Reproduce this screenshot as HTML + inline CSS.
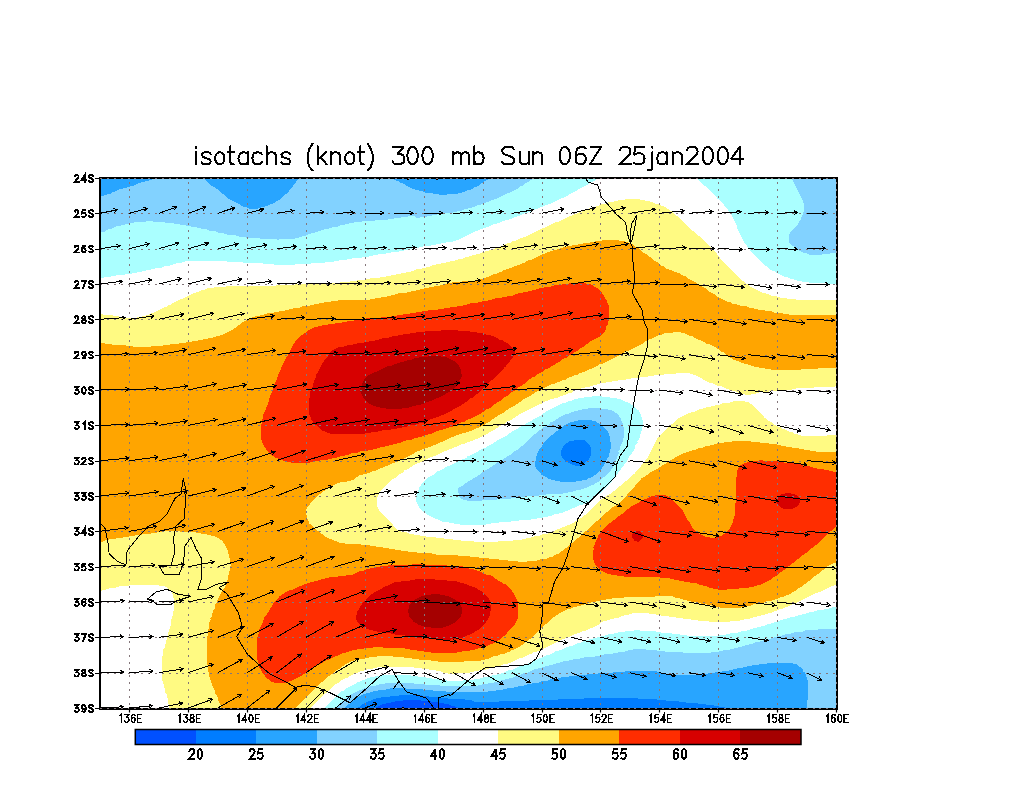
<!DOCTYPE html>
<html><head><meta charset="utf-8"><title>isotachs 300 mb</title>
<style>html,body{margin:0;padding:0;background:#fff;width:1024px;height:800px;overflow:hidden}svg{display:block;font-family:"Liberation Sans",sans-serif}</style>
</head><body>
<svg width="1024" height="800" viewBox="0 0 1024 800"><g shape-rendering="crispEdges"><rect x="100" y="178" width="736" height="530" fill="#0050ff"/>
<path fill="#007dff" fill-rule="evenodd" d="M100.0 178.0 100.0 707.5 375.5 707.5 384.5 703.5 386.0 703.5 388.5 702.5 390.5 702.5 393.0 701.5 395.0 701.5 395.5 701.0 397.5 701.0 398.0 700.5 402.5 700.5 403.0 700.0 420.5 700.0 421.0 700.5 430.5 701.0 431.0 701.5 433.0 701.5 433.5 702.0 438.0 702.0 438.5 702.5 440.5 702.5 441.0 703.0 443.0 703.0 443.5 703.5 449.0 704.5 449.5 705.0 455.0 706.5 456.5 707.5 835.5 707.5 835.5 178.0Z"/>
<path fill="#28a5ff" fill-rule="evenodd" d="M100.0 178.0 100.0 707.5 357.5 707.5 360.5 706.0 363.0 704.0 369.0 701.0 370.0 701.0 373.5 699.0 375.0 699.0 377.5 698.0 379.5 698.0 382.0 697.0 384.0 697.0 384.5 696.5 389.5 696.5 390.0 696.0 392.5 696.0 393.0 695.5 398.5 695.5 399.0 695.0 421.5 695.0 422.0 695.5 425.0 695.5 425.5 696.0 428.0 696.0 428.5 696.5 434.5 696.5 435.0 697.0 441.0 697.5 441.5 698.0 447.0 698.0 447.5 698.5 453.0 698.5 453.5 699.0 464.5 699.5 465.0 700.0 471.5 700.5 473.5 701.5 478.5 701.5 479.0 702.0 499.0 701.5 499.5 701.0 514.0 701.0 514.5 700.5 528.5 700.5 529.0 700.0 543.0 700.0 543.5 699.5 558.0 699.5 558.5 699.0 572.5 699.0 573.0 698.5 583.5 698.5 584.0 698.0 637.5 698.0 638.0 698.5 656.5 699.0 657.0 699.5 661.0 699.5 661.5 700.0 665.5 700.0 666.0 700.5 678.0 701.0 678.5 701.5 682.0 701.5 682.5 702.0 685.5 702.0 686.0 702.5 693.5 702.5 694.0 703.0 697.0 703.0 697.5 703.5 701.0 703.5 701.5 704.0 705.0 704.0 705.5 704.5 709.0 704.5 709.5 705.0 713.5 705.0 714.0 705.5 716.5 705.5 719.0 706.5 724.5 707.0 725.0 707.5 835.5 707.5 835.5 178.0ZM570.0 441.0 573.5 440.5 574.0 440.0 576.0 440.0 576.5 439.5 583.5 440.0 585.5 441.0 589.0 444.0 591.0 448.0 591.0 449.5 591.5 450.0 591.0 455.0 589.0 459.0 587.0 461.0 586.5 461.0 584.5 463.5 580.0 465.5 574.5 465.5 574.0 465.0 572.5 465.0 565.5 461.5 561.5 457.0 561.5 456.0 561.0 455.5 561.0 450.5 563.0 446.5 565.0 444.5Z"/>
<path fill="#82d2ff" fill-rule="evenodd" d="M100.0 197.0 100.0 707.5 345.0 707.5 347.5 705.0 350.0 703.5 353.5 700.0 355.0 699.5 358.0 697.0 364.0 694.0 365.0 694.0 366.5 693.0 369.5 692.5 371.0 691.5 372.5 691.5 373.0 691.0 378.0 690.5 378.5 690.0 380.5 690.0 381.0 689.5 386.0 689.5 386.5 689.0 389.0 689.0 389.5 688.5 405.0 688.0 405.5 688.5 422.0 689.0 422.5 689.5 425.5 689.5 426.0 690.0 432.0 690.0 432.5 690.5 438.5 690.5 439.0 691.0 445.0 691.0 445.5 691.5 451.5 691.5 452.0 692.0 477.5 692.5 478.0 692.0 484.0 692.0 484.5 691.5 488.0 691.5 488.5 691.0 495.5 690.5 496.0 690.0 499.0 690.0 499.5 689.5 503.0 689.5 503.5 689.0 505.5 689.0 508.0 688.0 514.0 687.5 514.5 687.0 516.5 687.0 519.0 686.0 521.0 686.0 521.5 685.5 524.0 685.5 526.5 684.5 531.0 684.0 533.5 683.0 536.0 683.0 536.5 682.5 538.5 682.5 541.0 681.5 546.0 681.0 546.5 680.5 548.0 680.5 550.0 679.5 554.0 679.0 554.5 678.5 558.0 678.5 558.5 678.0 560.5 678.0 561.0 677.5 565.0 677.0 565.5 676.5 569.0 676.5 569.5 676.0 572.5 676.0 573.0 675.5 576.0 675.5 576.5 675.0 583.5 675.0 584.0 674.5 587.0 674.5 587.5 674.0 594.5 674.0 595.0 673.5 598.0 673.5 598.5 673.0 605.5 673.0 606.0 672.5 613.0 672.5 613.5 672.0 624.0 672.0 624.5 671.5 640.0 671.0 640.5 670.5 651.5 670.5 652.0 671.0 656.5 671.5 659.0 672.5 661.0 672.5 661.5 673.0 665.5 673.5 666.0 674.0 668.5 674.0 669.0 674.5 682.0 674.5 682.5 675.0 685.0 675.0 685.5 674.5 700.5 674.5 701.0 674.0 704.0 674.0 704.5 673.5 707.5 673.5 708.0 673.0 711.0 673.0 711.5 672.5 715.0 672.5 715.5 672.0 718.5 672.0 719.0 671.5 722.0 671.5 722.5 671.0 726.0 671.0 726.5 670.5 728.5 670.5 731.0 669.5 733.0 669.5 733.5 669.0 736.0 669.0 738.5 668.0 743.0 667.5 743.5 667.0 745.0 667.0 745.5 666.5 747.0 666.5 749.5 665.5 751.5 665.5 752.0 665.0 759.0 664.5 759.5 664.0 763.0 664.0 763.5 663.5 767.0 663.5 767.5 663.0 774.5 663.0 775.0 662.5 790.5 662.5 791.0 663.0 792.5 663.0 793.0 663.5 794.5 663.5 797.0 664.5 802.5 669.0 803.5 671.5 804.5 672.5 806.0 675.5 806.0 676.5 807.0 678.5 807.0 680.0 807.5 680.5 807.5 682.0 808.0 682.5 807.5 700.5 807.0 701.0 807.0 705.0 806.5 705.5 806.5 707.5 835.5 707.5 835.5 178.0 489.0 178.0 487.0 180.0 482.0 183.0 479.0 185.5 477.0 186.5 476.0 186.5 471.0 189.5 468.0 190.0 464.0 192.0 462.5 192.0 462.0 192.5 460.5 192.5 458.0 193.5 455.0 193.5 454.5 194.0 447.5 194.0 447.0 194.5 438.5 194.5 438.0 194.0 433.0 194.0 432.5 193.5 428.5 193.0 428.0 192.5 424.5 192.5 421.5 191.0 419.5 191.0 419.0 190.5 415.5 190.0 412.5 188.5 411.5 188.5 408.5 186.5 405.0 185.0 404.0 184.0 402.0 183.0 401.0 183.0 398.0 181.0 395.5 180.5 392.5 179.0 391.5 178.0 299.0 178.0 296.0 181.5 295.5 183.0 289.0 191.0 289.0 191.5 279.5 199.5 275.5 201.5 274.0 203.0 272.0 204.0 271.0 204.0 267.5 206.0 262.5 207.0 258.5 208.5 254.5 208.5 254.0 209.0 249.0 208.5 248.5 208.0 243.0 206.5 240.0 205.0 239.0 204.0 229.5 199.5 225.0 195.5 220.5 192.5 217.5 189.5 211.5 185.5 203.5 178.0 154.0 178.0 152.0 179.5 150.0 179.5 148.5 180.5 145.5 181.0 144.0 182.0 138.5 183.0 133.5 185.5 132.0 185.5 130.0 186.5 128.5 186.5 126.5 187.5 125.0 187.5 124.5 188.0 119.0 189.5 114.5 192.0 112.0 192.5 110.5 193.5 109.5 193.5 106.0 195.0 104.5 195.0 103.0 196.0 102.0 196.0ZM607.5 431.0 609.5 435.5 609.5 437.5 610.0 438.0 610.0 442.0 610.5 442.5 610.5 448.5 610.0 449.0 610.0 452.0 609.0 454.0 608.5 457.0 607.0 459.0 604.5 464.5 602.5 467.5 595.0 475.0 591.5 477.5 588.0 478.5 586.5 479.5 582.5 480.0 582.0 480.5 579.5 480.5 579.0 481.0 576.5 481.0 576.0 481.5 573.0 481.5 572.5 482.0 560.0 482.0 559.5 481.5 552.0 480.0 548.0 478.5 547.0 477.5 544.5 476.5 541.5 474.5 536.5 469.0 535.0 465.5 535.0 461.0 535.5 460.5 535.5 458.0 536.0 457.5 537.0 453.5 539.0 449.5 542.0 446.0 543.0 444.0 550.5 436.0 553.0 434.5 555.5 432.0 565.0 425.0 571.0 422.0 576.0 421.0 576.5 420.5 578.0 420.5 578.5 420.0 582.0 420.0 582.5 419.5 591.0 420.0 591.5 420.5 595.5 421.5 597.5 423.0 601.0 424.5 602.5 425.5Z"/>
<path fill="#aaffff" fill-rule="evenodd" d="M791.5 178.0 533.0 178.0 531.0 180.0 526.5 183.0 525.0 183.5 522.5 185.5 521.0 186.0 518.5 188.0 508.5 193.0 507.5 193.0 496.0 199.0 495.0 199.0 493.0 200.0 491.5 200.0 488.0 202.0 486.5 202.0 486.0 202.5 483.5 203.0 481.0 204.5 479.5 204.5 472.0 207.5 470.5 207.5 466.5 209.0 465.0 209.0 461.0 211.0 457.5 211.0 457.0 211.5 453.0 212.0 452.5 212.5 450.5 212.5 450.0 213.0 445.5 213.0 445.0 213.5 442.5 213.5 442.0 214.0 437.5 214.0 437.0 214.5 435.0 214.5 434.5 215.0 432.5 215.0 432.0 215.5 430.0 215.5 429.5 216.0 427.5 216.0 427.0 216.5 422.5 216.5 420.0 217.5 415.5 217.5 415.0 216.5 414.0 216.0 408.0 216.0 407.5 216.5 401.5 217.0 401.0 217.5 398.0 217.5 397.5 218.0 394.5 218.0 394.0 218.5 388.0 219.0 387.5 219.5 381.5 219.5 381.0 220.0 375.0 220.0 374.5 220.5 365.5 220.5 365.0 221.0 362.5 221.0 362.0 221.5 354.5 222.0 352.5 223.0 349.5 223.0 349.0 223.5 345.5 224.0 344.0 225.0 340.0 225.5 338.0 226.5 333.5 227.0 328.0 229.0 323.5 229.5 323.0 230.0 322.0 230.0 314.0 233.0 312.5 233.0 304.5 236.0 303.0 236.0 299.5 237.5 295.0 238.0 294.5 238.5 292.0 238.5 291.5 239.0 279.0 239.0 278.5 239.5 276.5 239.5 276.0 239.0 261.0 239.0 260.5 238.5 248.5 238.0 248.0 237.5 245.5 237.5 245.0 237.0 242.5 237.0 242.0 236.5 239.0 236.5 238.5 236.0 236.0 236.0 235.5 235.5 227.0 234.5 223.0 233.0 220.5 233.0 220.0 232.5 218.0 232.5 216.0 231.5 208.5 230.5 206.5 229.5 202.0 229.0 200.0 228.0 193.0 227.0 192.5 226.5 191.0 226.5 188.5 225.5 185.5 225.5 185.0 225.0 182.5 225.0 182.0 224.5 179.5 224.5 179.0 224.0 176.5 224.0 176.0 223.5 173.5 223.5 173.0 223.0 170.5 223.0 170.0 222.5 165.0 222.5 164.5 222.0 162.5 222.0 162.0 221.5 153.0 221.5 152.5 221.0 146.0 221.0 145.5 221.5 135.0 222.0 132.5 223.0 130.5 223.0 128.0 224.0 126.0 224.0 123.5 225.0 121.5 225.0 121.0 225.5 116.0 226.5 110.5 229.0 107.5 229.5 104.5 231.5 103.5 231.5 100.0 233.0 100.0 707.5 335.5 707.5 350.0 695.0 358.5 690.5 362.0 689.5 365.5 687.5 367.5 687.5 368.0 687.0 369.5 687.0 371.0 686.0 376.0 685.5 380.0 684.0 385.0 683.5 385.5 683.0 391.5 683.0 392.0 682.5 410.0 682.5 410.5 683.0 413.5 683.0 414.0 683.5 421.0 683.5 421.5 684.0 424.5 684.0 425.0 684.5 432.0 684.5 432.5 685.0 439.5 685.0 440.0 685.5 447.0 685.5 447.5 686.0 457.5 686.0 458.0 686.5 474.5 686.0 475.0 685.5 477.5 685.5 478.0 685.0 481.0 685.0 481.5 684.5 487.0 684.0 487.5 683.5 491.5 683.0 492.0 682.5 494.5 682.5 498.5 681.0 504.0 680.0 506.0 679.0 511.5 678.0 515.5 676.0 520.0 675.0 522.5 673.5 527.5 672.5 533.5 669.5 537.0 669.0 539.0 668.0 540.5 668.0 542.5 667.0 548.0 666.0 550.0 665.0 551.5 665.0 553.5 664.0 559.0 663.0 563.0 661.5 568.0 661.0 568.5 660.5 572.5 660.0 573.0 659.5 579.0 659.0 579.5 658.5 583.5 658.0 584.0 657.5 591.0 657.0 591.5 656.5 594.5 656.5 595.0 656.0 598.5 656.0 599.0 655.5 601.0 655.5 603.5 654.5 610.0 654.0 610.5 653.5 613.0 653.5 613.5 653.0 617.5 652.5 618.0 652.0 624.5 651.5 625.0 651.0 627.0 651.0 629.5 650.0 632.0 650.0 634.0 649.0 645.0 649.0 645.5 649.5 652.0 649.5 652.5 650.0 656.0 650.0 656.5 650.5 660.0 650.5 660.5 651.0 664.0 651.0 664.5 651.5 668.0 651.5 668.5 652.0 682.5 652.5 683.0 653.0 690.0 653.0 690.5 653.5 707.5 653.0 708.0 652.5 711.0 652.5 711.5 652.0 715.0 652.0 715.5 651.5 718.5 651.5 719.0 651.0 722.0 651.0 722.5 650.5 728.5 650.0 732.5 648.5 734.0 648.5 734.5 648.0 738.0 647.5 740.0 646.5 741.5 646.5 743.5 645.5 745.0 645.5 745.5 645.0 749.0 644.5 751.0 643.5 752.5 643.5 754.5 642.5 760.0 641.5 765.5 639.5 771.0 638.5 776.5 636.5 782.0 635.5 786.0 634.0 791.0 633.5 793.5 632.5 802.5 631.5 805.0 630.5 810.5 630.0 811.0 629.5 817.5 629.5 818.0 629.0 823.5 629.0 824.0 628.5 835.5 628.5 835.5 253.0 829.5 253.5 829.0 254.0 822.0 254.0 821.5 254.5 809.0 254.5 807.0 253.5 803.5 253.0 797.0 249.5 793.0 246.0 792.5 246.0 789.0 242.0 789.0 241.0 788.5 240.5 788.5 236.0 789.0 235.5 789.0 234.5 790.0 232.5 798.5 223.5 799.5 221.0 801.0 219.0 801.0 218.0 802.5 215.0 802.5 214.0 803.5 212.0 803.5 210.5 804.0 210.0 804.0 205.0 803.5 204.5 803.5 203.0 803.0 202.5 802.5 200.0ZM621.0 419.0 621.0 420.0 622.5 422.5 622.5 425.0 623.5 427.0 623.5 437.5 623.0 438.0 623.0 440.5 621.0 444.5 619.5 450.0 618.5 451.5 618.5 454.0 617.0 457.0 616.5 459.5 615.5 461.0 615.0 463.5 611.5 469.5 605.5 476.0 603.0 477.5 599.5 481.0 593.0 485.0 590.5 485.5 586.0 488.0 585.0 488.0 580.0 490.0 576.0 490.5 572.0 492.0 563.5 493.0 563.0 493.5 557.5 493.5 557.0 494.0 546.0 494.5 545.5 495.0 539.5 495.0 539.0 495.5 533.5 495.5 533.0 496.0 527.5 496.0 527.0 496.5 521.0 496.5 520.5 497.0 518.0 497.0 517.5 497.5 515.0 497.5 514.5 498.0 511.0 498.0 510.5 498.5 497.5 499.0 497.0 499.5 489.5 499.5 489.0 500.0 482.0 500.0 481.5 500.5 467.0 500.5 466.5 500.0 463.5 500.0 460.5 498.5 459.0 496.5 459.0 494.5 458.0 492.0 458.0 488.5 459.5 487.0 462.5 485.5 464.0 484.0 466.5 483.0 469.0 481.0 471.5 480.0 473.5 478.0 477.5 476.0 485.0 470.5 487.5 469.5 497.5 462.5 503.0 459.5 507.5 456.0 510.0 455.0 515.5 450.5 517.5 449.5 520.0 447.0 522.0 446.0 527.5 440.5 528.0 440.5 535.5 433.5 536.0 433.5 539.0 430.5 541.5 429.0 543.5 427.0 548.5 424.5 550.5 422.5 554.0 421.0 559.0 417.5 565.0 414.5 567.5 414.0 572.5 411.5 574.0 411.5 574.5 411.0 576.0 411.0 576.5 410.5 578.0 410.5 578.5 410.0 580.0 410.0 580.5 409.5 582.0 409.5 584.5 408.5 587.5 408.5 588.0 408.0 600.0 408.0 600.5 408.5 607.5 409.0 608.0 409.5 612.0 410.5 616.5 413.5 619.0 416.0Z"/>
<path fill="#ffffff" fill-rule="evenodd" d="M835.5 283.5 826.0 283.5 825.5 283.0 818.5 283.0 818.0 282.5 809.0 282.5 808.5 282.0 805.5 282.0 805.0 281.5 802.0 281.5 801.5 281.0 796.5 280.5 796.0 280.0 795.0 280.0 793.0 279.0 791.5 279.0 786.5 277.0 785.0 277.0 781.5 275.0 780.5 275.0 775.5 272.5 774.5 271.5 770.0 269.5 766.5 266.5 765.0 266.0 751.0 252.0 749.5 249.5 747.5 247.5 746.0 244.5 744.5 243.0 743.0 239.5 740.5 236.0 740.5 235.0 737.5 229.0 737.0 226.0 732.0 216.0 728.5 211.5 727.0 208.5 724.5 206.0 723.0 203.5 718.0 198.5 717.5 198.5 710.5 191.0 710.0 191.0 705.0 186.0 704.5 186.0 696.5 178.0 597.5 178.0 595.5 180.0 589.5 183.0 587.0 185.0 578.5 189.0 577.5 190.0 569.5 194.0 568.5 195.0 563.0 198.0 562.0 198.0 549.5 204.0 548.5 204.0 547.0 205.0 546.0 205.0 544.5 206.0 543.5 206.0 542.0 207.0 541.0 207.0 539.5 208.0 538.5 208.0 537.0 209.0 536.0 209.0 529.5 212.0 523.5 213.5 522.0 214.5 521.0 214.5 519.5 215.5 518.5 215.5 517.0 216.5 516.0 216.5 509.5 219.5 504.5 220.5 499.0 223.0 498.0 223.0 496.0 224.0 494.5 224.0 489.0 226.5 488.0 226.5 487.5 227.0 483.5 228.0 482.0 229.0 479.5 229.5 477.0 231.0 476.0 231.0 473.5 232.5 472.5 232.5 459.5 239.5 454.0 241.0 452.5 242.0 445.5 242.5 445.0 243.0 441.5 243.0 441.0 243.5 439.0 243.5 438.5 244.0 436.5 244.0 436.0 244.5 434.0 244.5 433.5 245.0 431.5 245.0 431.0 245.5 429.0 245.5 428.5 246.0 423.0 246.5 422.5 247.0 420.5 247.0 418.0 248.0 412.0 248.5 411.5 249.0 409.5 249.0 409.0 249.5 407.0 249.5 406.5 250.0 404.5 250.0 404.0 250.5 402.0 250.5 401.5 251.0 399.5 251.0 399.0 251.5 391.5 252.0 391.0 252.5 389.0 252.5 388.5 253.0 386.5 253.0 386.0 253.5 384.0 253.5 383.5 254.0 377.5 254.5 377.0 255.0 372.5 255.5 372.0 256.0 369.0 256.0 368.5 256.5 365.5 256.5 365.0 257.0 362.0 257.0 361.5 257.5 356.5 257.5 356.0 258.0 353.5 258.0 351.0 259.0 347.5 259.0 347.0 259.5 344.5 259.5 344.0 260.0 338.5 260.5 338.0 261.0 334.5 261.0 334.0 261.5 325.0 262.0 324.5 262.5 311.0 263.0 310.5 263.5 304.5 263.5 304.0 264.0 295.0 264.0 294.5 264.5 273.5 264.5 273.0 264.0 264.0 264.0 263.5 263.5 251.5 263.0 251.0 262.5 242.5 262.5 242.0 262.0 226.5 261.5 226.0 261.0 217.0 261.0 216.5 260.5 192.5 260.5 192.0 261.0 184.5 261.5 182.0 262.5 180.0 262.5 179.5 263.0 177.5 263.0 175.0 264.0 173.0 264.0 172.5 264.5 171.0 264.5 169.5 265.5 163.5 266.5 162.0 267.5 155.0 268.5 154.5 269.0 151.0 269.5 150.5 270.0 145.5 270.5 145.0 271.0 143.5 271.0 141.0 272.0 132.5 273.0 132.0 273.5 130.0 273.5 129.5 274.0 125.5 274.0 125.0 274.5 117.5 275.0 115.0 276.0 111.5 276.0 111.0 276.5 109.0 276.5 108.5 277.0 105.5 277.0 103.0 278.0 100.0 278.0 100.0 707.5 325.5 707.5 331.5 701.0 331.5 700.5 337.0 695.0 337.5 695.0 342.0 691.0 343.5 690.5 346.0 688.5 353.5 685.0 358.0 682.0 359.0 682.0 360.5 681.0 361.5 681.0 363.0 680.0 364.0 680.0 366.5 678.5 369.0 678.0 370.5 677.0 374.5 676.5 375.0 676.0 377.5 676.0 378.0 675.5 380.5 675.5 381.0 675.0 386.0 675.0 386.5 674.5 402.5 674.5 403.0 675.0 410.0 675.0 410.5 675.5 414.0 675.5 414.5 676.0 417.5 676.0 418.0 676.5 421.5 676.5 422.0 677.0 425.0 677.0 425.5 677.5 431.5 678.0 432.0 678.5 437.0 678.5 437.5 679.0 440.0 679.0 440.5 679.5 443.0 679.5 443.5 680.0 446.0 680.0 446.5 680.5 462.5 680.5 463.0 680.0 470.0 680.0 470.5 679.5 473.5 679.5 474.0 679.0 477.5 679.0 478.0 678.5 480.0 678.5 482.5 677.5 489.5 676.5 495.0 674.5 496.5 674.5 497.0 674.0 500.5 673.5 502.5 672.5 504.0 672.5 508.0 670.5 513.0 669.5 522.5 665.0 527.5 663.5 533.5 660.5 538.5 659.0 541.0 657.5 542.0 657.5 544.5 656.0 549.5 654.5 555.5 651.5 560.5 650.0 566.5 647.0 571.5 646.0 577.5 643.0 581.0 642.5 586.5 640.0 592.0 639.0 594.0 638.0 599.5 637.0 601.5 636.0 603.0 636.0 603.5 635.5 605.0 635.5 607.5 634.5 613.0 634.0 613.5 633.5 617.5 633.0 618.0 632.5 624.5 632.0 625.0 631.5 630.5 631.0 631.0 630.5 633.5 630.5 634.0 630.0 639.0 630.0 639.5 630.5 648.5 630.5 649.0 631.0 656.0 631.5 656.5 632.0 660.0 632.0 660.5 632.5 664.0 632.5 664.5 633.0 671.5 633.0 672.0 633.5 679.0 634.0 679.5 634.5 682.5 634.5 683.0 635.0 686.0 635.0 686.5 635.5 690.0 635.5 690.5 636.0 715.0 636.0 715.5 635.5 718.5 635.5 719.0 635.0 722.0 635.0 722.5 634.5 726.0 634.5 726.5 634.0 729.5 634.0 730.0 633.5 736.0 633.0 736.5 632.5 738.0 632.5 742.0 631.0 747.0 630.5 747.5 630.0 749.0 630.0 754.5 628.0 756.0 628.0 756.5 627.5 760.0 627.0 762.0 626.0 763.5 626.0 767.5 624.0 769.0 624.0 769.5 623.5 771.0 623.5 776.5 621.5 778.0 621.5 784.0 619.0 785.5 619.0 787.5 618.0 789.0 618.0 789.5 617.5 797.0 616.0 799.0 615.0 804.5 614.0 810.0 612.0 814.0 611.5 814.5 611.0 816.5 611.0 817.0 610.5 820.5 610.0 821.0 609.5 823.5 609.5 824.0 609.0 826.0 609.0 826.5 608.5 828.5 608.5 829.0 608.0 831.0 608.0 831.5 607.5 835.5 607.0ZM641.0 415.0 641.0 416.0 642.0 418.0 642.0 420.0 642.5 420.5 642.5 427.0 642.0 427.5 642.0 429.5 641.0 431.5 641.0 433.5 640.5 434.0 639.5 438.0 637.5 441.5 637.5 442.5 635.5 445.5 635.0 447.5 633.0 451.5 632.0 452.5 631.5 454.0 629.5 456.0 628.0 459.5 610.5 483.0 599.5 494.0 599.0 494.0 593.5 499.0 582.5 504.5 580.0 505.0 574.5 508.0 572.0 508.5 567.5 511.0 566.0 511.0 561.5 513.0 554.0 514.5 552.0 515.5 550.5 515.5 550.0 516.0 548.5 516.0 548.0 516.5 546.5 516.5 546.0 517.0 544.5 517.0 542.0 518.0 538.5 518.0 536.0 519.0 532.5 519.0 530.0 520.0 519.0 520.5 518.5 521.0 511.5 521.0 511.0 521.5 503.5 521.5 503.0 522.0 499.0 522.0 498.5 522.5 494.0 522.5 493.5 523.0 491.5 523.0 491.0 523.5 489.0 523.5 488.5 524.0 486.5 524.0 486.0 524.5 481.5 524.5 481.0 525.0 471.5 525.5 471.0 525.0 459.5 524.5 459.0 524.0 456.5 524.0 456.0 523.5 453.5 523.5 453.0 523.0 444.5 522.0 444.0 521.5 442.0 521.5 438.0 519.5 435.0 519.0 434.0 518.0 426.5 514.5 424.5 512.5 424.0 512.5 419.0 507.5 416.0 501.5 416.0 496.0 418.0 492.0 418.0 491.0 419.5 487.5 422.5 483.0 426.5 479.0 430.5 476.0 434.5 474.0 437.5 471.5 444.0 468.5 445.0 467.5 448.0 466.0 449.0 466.0 462.5 459.0 463.5 459.0 466.5 457.5 467.5 456.5 477.0 452.0 480.5 449.5 484.5 447.5 485.5 447.5 488.5 445.5 493.0 443.5 497.0 440.5 504.5 437.0 513.0 431.0 517.5 429.0 520.0 427.0 522.5 426.0 526.0 423.5 529.5 422.0 534.5 418.5 541.5 415.0 543.5 413.0 545.0 412.5 546.0 411.5 563.0 403.0 565.5 402.5 568.5 401.0 571.5 400.5 574.5 399.0 576.0 399.0 576.5 398.5 578.0 398.5 580.5 397.5 584.0 397.5 584.5 397.0 591.5 396.5 592.0 396.0 601.5 396.0 602.0 396.5 607.5 396.5 610.0 397.5 613.5 397.5 614.0 398.0 619.5 399.0 629.0 403.0 635.0 407.0 636.0 408.5 638.5 410.5Z"/>
<path fill="#fffa82" fill-rule="evenodd" d="M835.5 299.5 829.5 299.5 829.0 300.0 802.0 300.0 801.5 299.5 796.0 299.5 795.5 299.0 789.5 299.0 789.0 298.5 786.5 298.5 786.0 298.0 783.5 298.0 783.0 297.5 780.0 297.5 779.5 297.0 777.5 297.0 775.5 296.0 771.0 295.5 770.5 295.0 760.5 292.0 749.5 286.0 743.5 281.0 742.0 280.5 726.5 265.5 726.5 265.0 721.0 259.5 716.0 252.5 708.5 244.5 708.0 244.5 700.5 237.0 697.5 235.0 693.5 231.0 692.0 230.5 687.5 226.0 687.0 226.0 683.5 222.5 683.5 222.0 676.5 215.5 676.0 215.5 673.0 212.5 669.0 209.5 662.0 205.5 661.0 205.5 659.5 204.5 656.0 204.0 654.5 203.0 653.5 203.0 652.0 202.0 650.5 202.0 650.0 201.5 645.5 201.0 645.0 200.5 641.0 200.0 638.5 199.0 625.5 199.0 625.0 199.5 618.5 200.0 618.0 200.5 616.0 200.5 613.5 201.5 609.0 202.0 607.5 203.0 606.5 203.0 604.5 204.0 601.0 204.5 600.5 205.0 596.5 206.0 595.0 207.0 587.5 209.0 586.0 210.0 585.0 210.0 583.5 211.0 582.5 211.0 581.0 212.0 580.0 212.0 578.5 213.0 577.5 213.0 576.0 214.0 575.0 214.0 573.5 215.0 570.0 216.0 563.5 219.5 562.5 219.5 561.0 220.5 560.0 220.5 558.5 221.5 555.0 222.5 546.5 227.0 545.5 227.0 544.0 228.0 540.5 229.0 524.5 237.0 523.5 237.0 522.0 238.0 521.0 238.0 514.5 241.0 512.0 241.5 510.5 242.5 508.0 243.0 503.5 245.5 495.5 248.0 494.0 249.0 493.0 249.0 491.0 250.0 489.5 250.0 489.0 250.5 487.5 250.5 478.5 254.0 477.0 254.0 475.0 255.0 471.5 255.5 471.0 256.0 470.0 256.0 468.0 257.0 466.5 257.0 461.5 259.0 457.5 259.5 457.0 260.0 455.0 260.0 454.5 260.5 452.5 260.5 452.0 261.0 450.0 261.0 449.5 261.5 446.0 262.0 445.5 262.5 440.5 263.5 440.0 264.0 435.5 264.5 435.0 265.0 431.5 265.5 429.5 266.5 428.0 266.5 424.5 268.0 416.5 269.5 411.0 271.5 409.0 271.5 408.5 272.0 406.5 272.0 406.0 272.5 404.0 272.5 403.5 273.0 401.5 273.0 401.0 273.5 399.0 273.5 398.5 274.0 396.5 274.0 396.0 274.5 394.0 274.5 393.5 275.0 391.5 275.0 391.0 275.5 389.0 275.5 388.5 276.0 386.5 276.0 386.0 276.5 384.0 276.5 383.5 277.0 380.0 277.0 379.5 277.5 376.0 277.5 375.5 278.0 370.0 278.5 369.5 279.0 365.0 279.0 364.5 279.5 357.0 280.0 356.5 280.5 353.5 280.5 353.0 281.0 350.5 281.0 350.0 281.5 345.0 281.5 344.5 282.0 340.0 282.0 339.5 282.5 326.5 283.0 326.0 283.5 314.5 283.5 314.0 284.0 295.0 284.0 294.5 284.5 285.5 284.5 285.0 285.0 276.0 285.0 275.5 285.5 260.5 285.5 260.0 286.0 226.0 286.0 225.5 286.5 214.5 287.0 214.0 287.5 207.0 288.5 204.0 290.0 200.5 290.5 199.0 291.5 194.0 293.0 188.5 296.0 187.5 296.0 182.0 299.0 181.0 299.0 175.5 302.0 174.5 302.0 170.0 305.0 168.0 305.5 166.5 306.5 165.5 306.5 154.0 312.5 153.0 312.5 146.5 315.5 145.0 315.5 144.5 316.0 143.0 316.0 140.5 317.0 138.5 317.0 136.0 318.0 126.0 318.0 125.5 317.5 123.5 317.5 123.0 317.0 119.0 316.5 116.5 315.5 113.0 315.5 112.5 315.0 109.5 315.0 109.0 314.5 102.5 314.5 102.0 314.0 100.0 314.0 100.0 590.5 101.5 590.5 103.5 589.5 105.5 589.5 106.0 589.0 107.5 589.0 110.0 588.0 116.0 587.5 116.5 587.0 118.0 587.0 120.5 586.0 125.5 586.0 126.0 585.5 129.0 585.5 129.5 585.0 135.5 585.0 136.0 584.5 153.5 584.5 154.0 585.0 158.5 585.0 159.0 585.5 161.0 585.5 161.5 586.0 165.0 586.5 167.5 588.0 171.0 591.5 173.0 595.5 173.0 597.0 174.0 599.5 174.0 608.0 173.5 608.5 173.5 610.5 173.0 611.0 173.0 613.0 172.5 613.5 172.5 616.0 172.0 616.5 172.0 618.5 171.5 619.0 170.5 626.0 170.0 626.5 170.0 628.0 169.0 629.5 168.0 635.5 167.0 637.0 166.0 643.0 165.0 644.5 164.5 648.0 163.5 649.5 163.0 653.5 162.5 654.0 162.5 656.0 162.0 656.5 162.0 658.5 161.5 659.0 161.5 671.5 162.0 672.0 162.5 681.0 163.0 681.5 164.0 687.0 165.0 689.0 165.5 692.5 166.5 694.5 166.5 696.0 167.5 698.0 167.5 701.0 168.5 703.5 168.5 706.0 169.0 706.5 169.0 707.5 311.5 707.5 325.0 693.5 325.5 693.5 335.0 684.5 338.0 683.0 341.0 680.5 347.5 677.5 348.5 676.5 352.5 674.5 353.5 674.5 360.0 671.5 363.0 671.0 364.5 670.0 366.0 670.0 368.5 669.0 370.5 669.0 371.0 668.5 373.0 668.5 373.5 668.0 376.0 668.0 376.5 667.5 389.5 667.0 390.0 666.5 409.0 666.5 409.5 667.0 413.0 667.0 413.5 667.5 417.0 667.5 417.5 668.0 421.0 668.0 421.5 668.5 424.5 668.5 425.0 669.0 428.5 669.0 429.0 669.5 435.0 670.0 435.5 670.5 437.5 670.5 438.0 671.0 439.5 671.0 444.5 673.0 447.0 673.0 447.5 673.5 458.0 673.5 458.5 673.0 461.5 673.0 462.0 672.5 469.5 672.5 470.0 672.0 472.5 672.0 475.0 671.0 483.5 670.0 484.0 669.5 485.5 669.5 486.0 669.0 487.5 669.0 490.0 668.0 494.5 667.5 497.0 666.0 498.5 666.0 499.0 665.5 500.5 665.5 506.0 663.5 507.5 663.5 508.0 663.0 510.5 662.5 512.0 661.5 513.0 661.5 515.5 660.0 516.5 660.0 519.0 658.5 523.5 657.5 530.0 654.0 531.0 654.0 533.5 652.5 538.5 651.0 563.0 639.0 564.0 639.0 566.5 637.5 571.5 636.0 576.0 633.5 577.0 633.5 577.5 633.0 581.5 632.0 583.0 631.0 585.5 630.5 590.5 628.0 593.0 627.5 597.5 625.0 598.5 625.0 600.5 622.5 603.5 621.0 607.0 620.5 612.0 618.5 614.0 618.5 614.5 618.0 618.5 617.5 624.0 615.5 628.0 615.0 633.0 613.0 636.5 613.0 637.0 612.5 648.5 613.0 649.0 613.5 652.5 613.5 653.0 614.0 655.0 614.0 655.5 614.5 660.0 615.0 660.5 615.5 668.0 616.0 668.5 616.5 671.5 616.5 672.0 617.0 675.0 617.0 675.5 617.5 679.0 617.5 679.5 618.0 682.5 618.0 683.0 618.5 686.0 618.5 686.5 619.0 690.0 619.0 690.5 619.5 693.5 619.5 694.0 620.0 697.0 620.0 697.5 620.5 701.0 620.5 701.5 621.0 708.0 621.0 708.5 621.5 729.5 621.5 730.0 621.0 737.0 621.0 737.5 620.5 739.5 620.5 740.0 620.0 744.0 619.5 744.5 619.0 750.5 618.5 754.5 617.0 756.0 617.0 756.5 616.5 760.0 616.0 762.0 615.0 763.5 615.0 765.5 614.0 771.0 613.0 775.0 611.0 776.0 611.0 778.5 609.5 783.5 608.5 786.0 607.0 787.0 607.0 789.5 605.5 790.5 605.5 795.0 603.0 796.0 603.0 815.5 593.0 819.5 592.0 829.5 587.0 830.5 587.0 832.0 586.0 835.5 585.0 835.5 434.5 833.0 434.5 832.5 435.0 827.0 435.0 826.5 435.5 820.5 435.5 820.0 436.0 804.5 436.0 804.0 435.5 801.0 435.5 800.5 435.0 795.0 434.0 792.5 432.5 790.0 432.0 784.5 429.0 782.0 428.5 780.0 427.0 778.0 426.5 774.0 424.5 771.5 422.5 768.5 421.0 765.0 417.5 764.5 417.5 753.0 405.5 749.0 402.5 746.5 401.5 745.0 401.5 744.5 401.0 733.0 401.5 732.5 402.0 730.5 402.0 730.0 402.5 721.5 403.5 719.5 404.5 715.0 405.0 714.5 405.5 713.0 405.5 710.5 406.5 708.5 406.5 705.0 408.0 700.0 409.0 696.5 411.0 690.5 412.5 678.0 418.5 671.5 424.5 671.0 424.5 658.5 437.0 656.0 440.5 648.0 457.5 645.0 460.5 644.5 462.0 641.0 466.0 641.0 466.5 638.5 469.0 638.0 469.0 634.5 473.0 634.5 473.5 626.5 481.0 626.0 481.0 611.5 493.0 607.0 495.5 605.5 497.0 600.5 500.0 588.5 512.5 581.0 518.0 579.5 518.5 574.5 522.0 569.5 524.5 568.5 524.5 564.0 527.0 563.0 527.0 559.5 529.0 557.0 529.5 553.5 531.5 552.5 531.5 547.5 533.5 543.5 534.0 538.5 536.0 534.0 536.5 533.5 537.0 531.0 537.0 530.5 537.5 529.0 537.5 525.0 539.0 522.5 539.0 522.0 539.5 516.0 539.5 515.5 540.0 513.0 540.0 512.5 540.5 510.0 540.5 509.5 541.0 497.5 541.5 497.0 542.0 488.0 542.0 487.5 541.5 473.5 541.5 473.0 541.0 463.5 541.0 463.0 540.5 460.5 540.5 460.0 540.0 453.5 540.0 453.0 539.5 447.0 539.0 446.5 538.5 444.0 538.5 443.5 538.0 438.0 538.0 437.5 537.5 435.5 537.5 435.0 537.0 429.5 537.0 429.0 536.5 426.0 536.5 425.5 536.0 422.0 536.0 421.5 535.5 419.5 535.5 419.0 535.0 417.0 535.0 416.5 534.5 414.0 534.5 413.5 534.0 409.0 533.5 407.0 532.5 401.0 531.5 398.0 530.0 394.0 527.0 392.5 524.0 389.5 521.0 389.0 521.0 379.5 511.0 376.5 505.0 376.5 498.5 379.5 492.5 388.0 483.0 388.5 483.0 393.5 478.5 395.0 478.0 398.0 475.0 402.0 473.0 404.5 470.5 408.0 469.0 413.0 465.5 419.0 462.5 420.0 462.5 427.5 458.5 428.5 458.5 431.0 457.0 436.0 455.5 442.5 452.0 447.5 450.5 450.0 449.0 451.0 449.0 453.5 447.5 454.5 447.5 461.0 444.5 464.0 444.0 465.5 443.0 472.0 441.0 475.5 439.0 478.0 438.5 487.0 434.0 489.5 432.0 494.0 430.0 500.0 426.0 504.5 424.0 507.5 421.5 512.0 419.5 519.0 414.5 522.5 413.0 523.5 412.0 529.0 409.5 532.0 407.5 533.0 407.5 539.5 404.0 541.5 403.5 543.0 402.0 544.0 402.0 546.5 400.5 548.0 400.5 550.0 399.5 553.5 399.0 555.0 398.0 558.0 397.5 562.5 395.5 565.5 395.0 569.0 393.0 571.5 392.5 575.0 390.5 578.0 390.0 582.5 388.0 584.0 388.0 586.0 387.0 587.5 387.0 588.0 386.5 589.5 386.5 590.0 386.0 597.5 384.5 601.5 383.0 605.0 383.0 607.5 382.0 611.0 382.0 613.5 381.0 617.0 381.0 617.5 380.5 624.5 380.0 627.0 379.0 630.5 379.0 631.0 378.5 638.5 378.0 641.0 377.0 644.5 377.0 645.0 376.5 648.0 376.5 650.5 375.5 654.0 375.5 654.5 375.0 658.0 375.0 658.5 374.5 663.5 374.5 664.0 374.0 667.5 374.0 668.0 373.5 676.0 373.5 676.5 373.0 689.0 373.0 689.5 373.5 691.0 373.5 692.5 374.5 694.0 374.5 709.0 382.5 713.0 383.5 716.5 385.5 721.5 386.5 725.5 388.5 726.5 388.5 731.5 390.5 735.0 391.0 741.0 394.0 744.5 394.5 745.0 395.0 750.0 395.0 753.0 393.5 756.0 393.5 756.5 393.0 758.0 393.0 760.5 392.0 766.0 392.0 766.5 391.5 769.0 391.5 769.5 391.0 775.5 391.0 776.0 390.5 782.5 390.5 783.0 390.0 785.5 390.0 786.0 389.5 791.5 389.5 792.0 389.0 795.0 389.0 795.5 388.5 807.5 388.0 808.0 387.5 814.0 387.5 814.5 387.0 822.0 387.0 822.5 386.5 835.0 386.5 835.5 386.0Z"/>
<path fill="#ffa500" fill-rule="evenodd" d="M835.5 315.0 791.5 315.0 791.0 314.5 788.5 314.5 788.0 314.0 785.5 314.0 785.0 313.5 782.5 313.5 782.0 313.0 777.0 313.0 776.5 312.5 774.5 312.5 770.5 311.0 767.5 311.0 767.0 310.5 764.5 310.5 764.0 310.0 761.5 310.0 761.0 309.5 758.0 309.5 757.5 309.0 755.5 309.0 751.5 307.5 749.5 307.5 745.5 306.0 740.0 305.5 736.0 304.0 732.0 303.5 730.5 302.5 726.5 301.5 717.5 297.0 714.0 294.0 710.0 292.0 706.5 289.0 700.5 286.0 695.0 282.0 688.0 278.5 685.5 276.5 681.0 274.5 680.0 273.5 666.0 268.5 663.5 266.5 662.0 266.0 658.5 263.0 654.0 260.5 650.5 257.5 649.0 257.0 646.0 254.0 643.0 252.5 637.5 247.5 635.0 246.5 632.5 244.5 622.5 240.5 618.5 240.5 618.0 240.0 614.5 240.0 614.0 239.5 607.5 239.5 607.0 240.0 602.5 240.0 602.0 240.5 595.5 241.0 595.0 241.5 592.5 241.5 590.0 242.5 583.0 243.0 582.5 243.5 580.5 243.5 580.0 244.0 578.0 244.0 577.5 244.5 575.0 244.5 574.5 245.0 572.5 245.0 572.0 245.5 569.5 245.5 569.0 246.0 564.0 247.0 560.5 248.5 559.0 248.5 555.5 250.0 554.0 250.0 550.5 251.5 549.0 251.5 544.0 254.0 540.5 255.0 534.0 258.5 533.0 258.5 531.5 259.5 528.0 260.5 524.5 262.5 523.5 262.5 522.0 263.5 521.0 263.5 519.5 264.5 518.5 264.5 517.0 265.5 516.0 265.5 509.5 268.5 503.0 270.5 501.5 271.5 500.5 271.5 499.0 272.5 498.0 272.5 496.5 273.5 495.5 273.5 489.0 276.5 488.0 276.5 483.0 278.5 475.5 280.0 475.0 280.5 472.5 280.5 472.0 281.0 462.0 281.0 461.5 281.5 451.5 282.5 451.0 283.0 447.0 283.5 446.5 284.0 444.5 284.0 444.0 284.5 442.0 284.5 439.5 285.5 434.5 286.0 434.0 286.5 432.0 286.5 431.5 287.0 429.5 287.0 429.0 287.5 427.0 287.5 426.5 288.0 424.0 288.0 423.5 288.5 422.0 288.5 421.5 289.0 420.0 289.0 419.5 289.5 418.0 289.5 415.5 290.5 413.0 290.5 412.5 291.0 411.0 291.0 410.5 291.5 409.0 291.5 406.5 292.5 398.0 293.5 397.5 294.0 396.0 294.0 393.5 295.0 391.5 295.0 391.0 295.5 389.5 295.5 387.0 296.5 384.5 296.5 384.0 297.0 381.5 297.0 381.0 297.5 378.5 297.5 378.0 298.0 375.5 298.0 375.0 298.5 370.0 299.0 369.5 299.5 366.5 299.5 366.0 300.0 361.5 300.0 361.0 300.5 338.0 300.0 337.5 300.5 334.5 300.5 334.0 301.0 331.0 301.0 330.5 301.5 327.0 301.5 326.5 302.0 324.0 302.0 323.5 302.5 321.5 302.5 319.0 303.5 314.5 304.0 314.0 304.5 310.5 305.0 310.0 305.5 301.5 306.5 299.5 307.5 292.5 308.5 292.0 309.0 290.5 309.0 288.0 310.0 285.5 310.0 285.0 310.5 282.5 310.5 282.0 311.0 279.0 311.0 278.5 311.5 276.5 311.5 274.0 312.5 266.5 313.5 262.5 315.0 260.0 315.0 259.5 315.5 258.0 315.5 257.5 316.0 252.5 317.0 250.5 318.5 248.5 319.0 245.5 321.0 243.0 322.0 232.5 330.0 223.0 334.5 221.5 334.5 218.5 336.0 215.5 336.5 215.0 337.0 213.0 337.0 212.5 337.5 210.5 337.5 210.0 338.0 208.0 338.0 207.5 338.5 205.5 338.5 205.0 339.0 203.0 339.0 202.5 339.5 200.5 339.5 200.0 340.0 198.0 340.0 197.5 340.5 195.0 340.5 194.5 341.0 192.0 341.0 191.5 341.5 189.0 341.5 188.5 342.0 186.0 342.0 185.5 342.5 179.5 343.0 179.0 343.5 176.0 343.5 175.5 344.0 170.0 344.0 169.5 344.5 163.5 345.0 163.0 345.5 151.0 346.0 150.5 346.5 132.5 346.5 132.0 346.0 126.5 346.0 126.0 345.5 115.0 345.0 114.5 344.5 112.0 344.5 111.5 344.0 107.0 344.0 106.5 343.5 104.5 343.5 104.0 343.0 100.0 343.0 100.0 541.5 102.5 541.5 103.0 541.0 104.5 541.0 105.0 540.5 108.5 540.0 109.0 539.5 115.0 539.0 115.5 538.5 119.0 538.0 119.5 537.5 122.5 537.5 123.0 537.0 125.5 537.0 126.0 536.5 128.5 536.5 129.0 536.0 132.0 536.0 132.5 535.5 135.0 535.5 135.5 535.0 138.0 535.0 138.5 534.5 141.5 534.5 142.0 534.0 147.5 534.0 148.0 533.5 150.5 533.5 151.0 533.0 153.5 533.0 154.0 532.5 157.0 532.5 157.5 532.0 163.0 532.0 163.5 531.5 179.5 531.0 180.0 531.5 195.0 532.0 195.5 532.5 198.0 532.5 198.5 533.0 200.5 533.0 201.0 533.5 203.5 533.5 204.0 534.0 206.0 534.0 206.5 534.5 210.5 535.0 212.0 536.0 213.5 536.0 218.0 538.0 221.0 540.0 223.0 542.0 226.0 546.5 228.0 551.0 228.0 552.5 229.0 555.0 229.0 557.0 230.0 559.5 230.0 564.0 230.5 564.5 230.5 565.5 230.0 566.0 230.0 570.0 229.0 572.5 229.0 574.5 228.5 575.0 227.5 580.5 226.5 582.0 226.5 583.0 225.5 584.5 225.5 585.5 224.5 587.5 222.5 590.0 216.5 602.0 216.5 603.0 215.5 604.5 214.5 608.5 213.5 610.0 211.5 617.0 210.5 618.5 210.5 619.5 209.5 621.5 209.0 626.0 208.5 626.5 208.5 629.0 208.0 629.5 208.0 632.0 207.5 632.5 207.5 635.5 207.0 636.0 207.0 641.5 206.5 642.0 206.5 658.0 207.0 658.5 207.0 664.5 207.5 665.0 207.5 667.5 208.0 668.0 209.0 676.5 209.5 677.0 209.5 678.5 210.5 680.0 210.5 681.0 211.5 682.5 212.5 686.5 214.5 690.0 215.5 693.5 217.5 697.0 218.0 700.0 220.0 703.5 221.0 707.5 296.0 707.5 315.5 687.5 316.0 687.5 321.0 682.5 323.5 681.0 327.0 677.5 332.0 674.0 336.5 670.0 340.5 668.0 345.5 664.0 350.5 661.5 353.0 661.0 356.0 659.5 358.0 659.5 360.5 658.5 364.5 658.5 365.0 658.0 369.0 657.5 369.5 657.0 374.0 657.0 374.5 656.5 377.0 656.5 377.5 656.0 392.5 656.0 393.0 656.5 400.0 656.5 400.5 657.0 403.5 657.0 404.0 657.5 411.5 658.0 412.0 658.5 415.0 658.5 415.5 659.0 418.5 659.0 419.0 659.5 426.0 659.5 426.5 660.0 430.0 660.0 430.5 660.5 433.5 660.5 434.0 661.0 437.5 661.0 438.0 661.5 444.5 661.5 445.0 662.0 454.0 662.0 454.5 661.5 463.5 661.5 464.0 661.0 480.0 661.0 480.5 660.5 484.0 660.0 485.5 659.0 489.0 658.5 493.0 656.5 497.0 656.0 501.0 654.0 504.5 653.5 506.0 652.5 507.0 652.5 508.5 651.5 509.5 651.5 511.0 650.5 514.5 649.5 516.5 648.0 520.0 646.5 531.5 638.0 540.0 629.5 541.0 628.0 541.5 628.0 545.5 624.0 546.0 624.0 551.0 619.0 559.0 613.5 567.0 609.5 570.0 609.0 573.0 607.5 576.0 607.0 577.5 606.0 581.0 605.5 586.0 603.5 588.0 603.5 592.0 602.0 594.0 602.0 594.5 601.5 596.0 601.5 596.5 601.0 600.0 600.5 600.5 600.0 603.0 600.0 603.5 599.5 605.5 599.5 606.0 599.0 611.0 599.0 611.5 598.5 623.0 598.0 623.5 597.5 641.0 597.0 641.5 596.5 655.0 596.5 655.5 596.0 669.0 595.5 669.5 596.0 673.0 596.5 675.0 597.5 678.5 598.0 680.5 599.0 682.0 599.0 682.5 599.5 684.0 599.5 684.5 600.0 686.0 600.0 686.5 600.5 688.0 600.5 690.5 601.5 696.0 602.0 696.5 602.5 698.0 602.5 698.5 603.0 700.0 603.0 702.5 604.0 707.0 604.5 707.5 605.0 711.5 605.5 712.0 606.0 714.5 606.0 715.0 606.5 719.0 607.0 719.5 607.5 733.0 608.0 733.5 607.5 740.5 607.5 741.0 607.0 743.0 607.0 745.5 606.0 748.0 606.0 748.5 605.5 750.5 605.5 753.0 604.5 758.0 604.0 758.5 603.5 764.0 602.5 766.0 601.5 771.5 600.5 773.5 599.5 775.0 599.5 775.5 599.0 778.0 598.5 779.5 597.5 784.0 596.5 787.5 594.5 788.5 594.5 791.5 593.0 792.5 592.0 796.5 590.0 799.5 587.5 801.0 587.0 804.0 584.5 805.5 584.0 817.5 574.0 818.0 574.0 821.5 570.5 824.5 569.0 828.0 566.0 835.5 562.5 835.5 452.5 815.5 451.5 815.0 451.0 812.5 451.0 812.0 450.5 809.5 450.5 809.0 450.0 806.5 450.0 806.0 449.5 803.5 449.5 803.0 449.0 794.5 448.0 794.0 447.5 792.0 447.5 791.5 447.0 789.0 447.0 788.5 446.5 786.0 446.5 785.5 446.0 777.0 445.0 776.5 444.5 771.5 444.0 771.0 443.5 768.5 443.5 768.0 443.0 762.5 443.0 762.0 442.5 759.5 442.5 759.0 442.0 756.5 442.0 756.0 441.5 751.0 441.5 750.5 441.0 732.5 441.0 732.0 441.5 729.5 441.5 729.0 442.0 724.0 442.0 723.5 442.5 718.5 443.0 714.5 444.5 712.5 444.5 708.5 446.0 706.5 446.0 701.5 448.0 697.5 448.5 694.5 450.0 689.5 451.0 688.0 452.0 684.0 453.0 680.5 455.0 679.5 455.0 677.5 456.0 672.5 459.5 668.0 461.5 664.5 464.5 663.0 465.0 654.5 470.5 650.0 472.5 645.0 476.5 643.5 477.0 641.5 478.5 635.5 484.5 634.5 486.5 630.0 491.0 625.5 497.0 621.0 501.5 620.5 501.5 618.0 504.0 611.5 508.0 608.5 511.0 606.0 512.5 603.0 516.0 602.5 516.0 599.0 519.5 596.0 521.5 595.0 523.0 587.0 530.5 586.5 530.5 579.0 537.5 576.5 539.0 573.0 542.5 570.5 544.0 567.5 547.0 563.5 550.0 560.5 551.5 558.5 553.5 554.0 555.5 552.0 557.0 550.5 557.0 545.5 559.0 540.0 559.5 539.5 560.0 537.0 560.0 536.5 560.5 533.5 560.5 533.0 561.0 527.5 561.0 527.0 561.5 517.5 561.5 517.0 561.0 514.5 561.0 514.0 560.5 508.0 560.5 507.5 560.0 505.0 560.0 504.5 559.5 498.5 559.5 498.0 559.0 495.0 559.0 494.5 558.5 488.5 558.5 488.0 558.0 485.5 558.0 485.0 557.5 479.0 557.5 478.5 557.0 476.0 557.0 475.5 556.5 469.5 556.5 469.0 556.0 463.5 556.0 463.0 555.5 457.5 555.5 457.0 555.0 435.5 554.5 435.0 554.0 432.5 554.0 432.0 553.5 419.5 553.0 419.0 552.5 416.5 552.5 416.0 552.0 413.5 552.0 413.0 551.5 407.5 551.5 407.0 551.0 404.0 551.0 403.5 550.5 401.0 550.5 400.5 550.0 398.0 550.0 397.5 549.5 394.5 549.5 394.0 549.0 391.5 549.0 391.0 548.5 388.5 548.5 388.0 548.0 385.5 548.0 385.0 547.5 382.5 547.5 382.0 547.0 379.0 547.0 378.5 546.5 376.0 546.5 375.5 546.0 373.0 546.0 372.5 545.5 369.5 545.5 369.0 545.0 366.5 545.0 366.0 544.5 360.5 544.5 360.0 544.0 357.0 544.0 356.5 543.5 344.5 543.5 344.0 543.0 339.0 542.5 338.5 542.0 334.5 541.0 331.0 539.0 330.0 539.0 326.0 537.0 318.0 531.0 316.5 530.5 309.5 523.5 306.5 517.0 306.5 515.5 306.0 515.0 306.0 510.5 307.5 506.5 309.5 504.5 309.5 504.0 318.5 495.0 329.0 487.5 335.5 484.0 336.5 484.0 338.0 483.0 339.5 483.0 340.0 482.5 347.0 481.5 347.5 481.0 349.0 481.0 349.5 480.5 351.0 480.5 351.5 480.0 354.0 479.5 355.5 478.0 361.0 474.5 363.0 474.5 364.5 473.5 367.0 473.5 367.5 473.0 370.0 472.5 371.5 471.5 374.5 471.0 380.5 468.0 383.0 467.5 385.5 466.0 389.5 465.0 393.0 463.0 395.5 462.5 413.0 454.0 414.0 453.0 418.0 451.0 419.0 451.0 420.5 450.0 421.5 450.0 422.0 449.5 424.5 449.0 426.0 448.0 430.0 447.0 433.5 445.0 437.5 444.0 441.0 442.0 443.5 441.5 453.0 436.5 454.0 436.5 454.5 436.0 472.0 430.5 476.5 428.0 479.0 427.5 484.0 425.0 486.5 423.0 490.0 421.5 493.5 418.5 498.0 415.5 501.5 414.0 511.5 407.0 514.0 406.0 520.0 402.0 523.5 399.0 531.5 395.0 537.5 391.0 541.5 389.5 543.0 388.0 544.0 388.0 552.5 384.0 554.0 384.0 557.0 382.5 559.5 382.0 563.0 380.0 565.5 379.5 569.0 377.5 571.5 377.0 575.0 375.0 577.5 374.5 579.0 373.5 584.0 372.0 588.5 369.5 591.0 369.0 598.0 365.5 600.0 364.0 602.5 363.5 623.5 353.0 624.5 352.0 627.5 350.5 628.5 350.5 642.5 343.5 644.0 342.0 649.5 339.0 650.5 339.0 658.5 335.0 662.0 334.5 663.5 333.5 667.5 333.0 668.0 332.5 672.5 332.5 673.0 332.0 680.5 332.5 681.0 333.0 685.0 333.5 686.5 334.5 687.5 334.5 689.0 335.5 692.5 336.5 699.0 340.0 700.0 340.0 706.5 343.5 707.5 343.5 716.5 348.0 721.5 351.5 723.0 352.0 725.5 354.5 734.0 360.0 735.0 360.0 736.5 361.0 737.5 361.0 744.0 363.5 745.5 363.5 750.5 365.5 752.0 365.5 754.0 366.5 758.0 367.0 758.5 367.5 761.0 367.5 761.5 368.0 764.0 368.0 764.5 368.5 767.0 368.5 767.5 369.0 770.5 369.0 771.0 369.5 776.5 369.5 777.0 370.0 795.0 370.0 795.5 369.5 801.0 369.5 801.5 369.0 810.5 369.0 811.0 368.5 818.0 368.5 818.5 368.0 829.0 368.0 829.5 367.5 835.5 367.5Z"/>
<path fill="#ff2d00" fill-rule="evenodd" d="M518.0 602.5 516.0 597.5 515.0 596.5 514.0 594.0 512.0 591.5 511.5 590.0 508.0 586.0 506.5 585.5 505.0 584.0 503.0 583.5 501.5 582.0 498.0 580.5 492.5 576.5 489.5 575.0 486.0 574.5 479.0 571.0 478.0 571.0 473.0 569.0 468.5 568.5 468.0 568.0 466.5 568.0 462.5 566.5 455.5 566.0 455.0 565.5 446.5 565.5 446.0 565.0 441.5 565.0 441.0 564.5 422.0 564.5 421.5 564.0 412.0 564.0 411.5 564.5 397.0 564.5 396.5 565.0 388.5 565.0 388.0 565.5 380.5 566.0 380.0 566.5 378.0 566.5 375.5 567.5 371.0 568.0 369.0 569.0 365.5 569.5 364.0 570.5 359.0 571.5 356.5 573.0 355.5 573.0 352.5 574.5 349.0 574.5 348.5 575.0 346.5 575.0 346.0 575.5 341.0 575.5 340.5 576.0 338.0 576.0 337.5 576.5 329.0 577.5 328.5 578.0 321.0 579.0 320.5 579.5 319.0 579.5 317.5 580.5 314.0 581.0 313.5 581.5 305.0 584.0 302.5 585.5 297.5 587.0 292.5 589.5 290.0 590.0 286.0 592.0 279.5 596.5 274.0 602.5 271.5 607.0 270.5 608.0 270.0 609.5 269.0 610.5 268.5 612.0 267.5 613.0 267.0 614.5 264.5 617.5 263.0 620.5 262.5 623.0 261.0 625.5 261.0 626.5 259.5 629.0 258.5 634.5 257.0 638.5 257.0 641.5 256.5 642.0 256.5 655.5 257.0 656.0 257.0 659.0 258.0 661.0 258.0 662.5 259.0 664.5 259.5 667.5 262.0 672.5 267.5 679.0 268.0 679.0 270.0 681.0 275.0 683.0 283.0 683.0 283.5 682.5 286.5 682.5 287.0 682.0 289.5 681.5 301.0 676.0 302.0 675.0 305.0 673.5 306.5 672.0 308.0 671.5 311.0 669.0 313.5 668.0 317.0 665.5 320.5 664.0 324.0 661.5 328.0 659.5 329.0 659.5 335.5 656.0 336.5 656.0 343.0 653.0 346.0 652.5 347.5 651.5 349.0 651.5 349.5 651.0 351.0 651.0 352.5 650.0 356.5 649.5 357.0 649.0 359.0 649.0 359.5 648.5 363.5 648.5 364.0 648.0 366.0 648.0 366.5 647.5 373.0 647.5 373.5 647.0 382.5 647.0 383.0 647.5 390.0 647.5 390.5 648.0 405.0 648.5 405.5 649.0 409.0 649.0 409.5 649.5 416.0 650.0 416.5 650.5 419.0 650.5 419.5 651.0 423.5 651.5 424.0 652.0 431.0 652.5 431.5 653.0 449.0 653.0 449.5 652.5 456.5 652.5 457.0 652.0 467.0 651.0 467.5 650.5 470.0 650.5 470.5 650.0 473.5 650.0 477.5 648.5 481.5 648.0 482.0 647.5 484.5 647.0 486.0 646.0 487.0 646.0 488.5 645.0 489.5 645.0 491.0 644.0 492.0 644.0 498.5 640.5 507.0 633.5 507.0 633.0 514.5 624.5 517.5 618.5 517.5 617.5 518.0 617.0ZM835.5 472.0 835.0 471.5 832.5 471.5 832.0 471.0 830.0 471.0 827.5 470.0 825.5 470.0 823.0 469.0 817.0 468.5 816.5 468.0 812.5 467.5 810.0 466.5 805.0 466.0 804.5 465.5 803.0 465.5 800.5 464.5 795.0 464.0 794.5 463.5 789.5 463.0 789.0 462.5 784.0 462.5 783.5 462.0 781.0 462.0 780.5 461.5 778.0 461.5 777.5 461.0 772.0 461.0 771.5 460.5 763.0 460.5 762.5 460.0 759.5 460.0 759.0 460.5 750.5 461.0 750.0 461.5 748.5 461.5 746.0 463.0 745.0 463.0 741.0 465.0 739.0 466.5 736.5 472.0 736.5 476.5 736.0 477.0 736.0 502.0 735.5 502.5 735.0 513.5 734.5 514.0 734.5 516.0 734.0 516.5 734.0 518.5 733.5 519.0 733.0 522.0 730.0 528.5 725.0 533.5 721.0 536.0 720.0 536.0 718.0 537.0 716.5 537.0 716.0 537.5 709.5 537.5 709.0 537.0 705.0 536.5 699.5 534.0 697.5 532.0 696.0 531.5 692.0 527.5 689.5 522.0 687.5 520.0 682.5 510.0 671.5 499.0 669.5 497.5 663.5 494.5 656.0 494.5 654.5 495.5 650.5 496.5 646.0 499.0 643.5 499.5 640.5 501.0 639.5 502.0 630.5 507.0 619.5 516.0 618.0 516.5 615.0 519.5 613.5 520.0 610.5 523.0 609.0 523.5 604.0 528.0 598.5 535.5 598.0 537.5 595.0 543.0 595.0 544.0 593.5 547.5 593.5 549.5 593.0 550.0 593.0 559.5 593.5 560.0 593.5 561.5 597.0 567.0 600.5 570.5 607.0 573.5 609.0 573.5 612.5 575.0 617.0 575.5 617.5 576.0 623.5 576.0 624.0 576.5 627.5 576.5 628.0 577.0 659.0 577.0 659.5 577.5 665.5 577.5 666.0 578.0 669.0 578.0 669.5 578.5 671.0 578.5 671.5 579.0 673.0 579.0 675.5 580.0 678.0 580.0 678.5 580.5 681.0 580.5 683.5 581.5 686.0 581.5 686.5 582.0 689.0 582.0 691.5 583.0 696.5 583.5 698.5 584.5 702.5 585.0 704.0 586.0 705.5 586.0 708.5 587.5 710.0 587.5 712.5 588.5 714.5 588.5 715.0 589.0 717.0 589.0 717.5 589.5 727.0 589.5 727.5 589.0 734.5 589.0 735.0 588.5 738.5 588.5 739.0 588.0 745.5 588.0 746.0 587.5 749.0 587.5 749.5 587.0 754.0 586.5 754.5 586.0 756.0 586.0 757.5 585.0 760.5 584.5 771.5 579.0 773.0 577.5 777.0 575.5 781.0 572.0 785.5 569.0 788.5 566.0 790.0 565.5 792.5 563.0 793.0 563.0 796.5 559.5 798.0 559.0 802.0 555.5 806.0 553.0 810.5 549.0 817.5 544.0 824.5 536.5 825.0 536.5 831.5 530.5 832.0 530.5 835.5 526.5ZM607.0 301.0 605.0 298.0 604.0 295.5 602.5 294.0 601.5 292.0 598.0 288.5 590.0 284.0 585.5 283.5 585.0 283.0 583.0 283.0 582.5 282.5 569.0 283.0 568.5 283.5 564.5 283.5 562.0 284.5 557.5 284.5 557.0 285.0 555.0 285.0 551.0 286.5 545.5 287.0 543.0 288.0 538.5 288.5 534.5 290.0 532.5 290.0 530.5 291.0 528.5 291.0 528.0 291.5 526.0 291.5 522.0 293.0 518.0 293.5 512.5 295.5 510.0 295.5 509.5 296.0 507.5 296.0 505.5 297.0 495.0 298.5 494.5 299.0 493.0 299.0 490.5 300.0 488.0 300.0 487.5 300.5 482.5 301.0 482.0 301.5 478.5 302.0 478.0 302.5 475.5 302.5 475.0 303.0 470.0 303.5 469.5 304.0 468.0 304.0 465.5 305.0 463.0 305.0 462.5 305.5 460.0 305.5 459.5 306.0 457.0 306.0 456.5 306.5 453.5 306.5 453.0 307.0 450.5 307.0 450.0 307.5 447.5 307.5 447.0 308.0 444.0 308.0 443.5 308.5 441.0 308.5 440.5 309.0 438.0 309.0 437.5 309.5 432.0 309.5 431.5 310.0 428.5 310.0 428.0 310.5 425.5 310.5 425.0 311.0 422.5 311.0 422.0 311.5 419.0 311.5 418.5 312.0 416.0 312.0 415.5 312.5 413.0 312.5 412.5 313.0 410.0 313.0 409.5 313.5 407.0 313.5 406.5 314.0 403.5 314.0 403.0 314.5 400.5 314.5 400.0 315.0 397.5 315.0 397.0 315.5 394.0 315.5 393.5 316.0 391.0 316.0 390.5 316.5 385.0 316.5 384.5 317.0 381.5 317.0 381.0 317.5 378.0 317.5 377.5 318.0 365.5 318.5 365.0 319.0 362.5 319.0 362.0 319.5 358.0 319.5 357.5 320.0 354.5 320.0 354.0 320.5 351.5 320.5 351.0 321.0 347.5 321.0 347.0 321.5 342.0 322.0 341.5 322.5 339.0 322.5 338.5 323.0 335.5 323.0 335.0 323.5 332.0 323.5 331.5 324.0 328.5 324.0 328.0 324.5 322.5 325.0 322.0 325.5 320.5 325.5 320.0 326.0 318.5 326.0 318.0 326.5 316.5 326.5 316.0 327.0 313.5 327.5 311.5 329.0 309.0 330.0 304.5 333.5 302.5 334.5 296.0 340.5 292.0 346.5 287.5 355.5 286.5 356.5 284.0 362.5 283.0 363.5 281.5 366.5 281.0 369.0 279.0 372.5 277.5 377.5 275.0 382.5 273.0 389.5 270.5 394.5 268.0 403.5 265.5 408.5 265.5 409.5 263.5 414.5 263.0 418.0 262.0 419.5 261.5 423.5 261.0 424.0 261.0 426.0 260.5 426.5 260.5 437.0 261.0 437.5 262.0 442.5 267.0 451.0 270.0 454.0 275.5 457.5 276.5 457.5 278.0 458.5 279.0 458.5 280.5 459.5 281.5 459.5 283.0 460.5 284.0 460.5 286.0 461.5 290.0 462.0 290.5 462.5 292.5 462.5 293.0 463.0 307.0 463.0 307.5 462.5 310.0 462.5 310.5 462.0 312.5 462.0 313.0 461.5 319.0 461.0 319.5 460.5 325.0 460.0 325.5 459.5 327.5 459.5 328.0 459.0 332.0 458.5 332.5 458.0 337.5 457.5 341.0 456.0 345.0 455.5 345.5 455.0 347.5 455.0 351.0 453.5 355.0 453.0 355.5 452.5 357.5 452.5 359.5 451.5 364.5 451.0 365.0 450.5 367.5 450.5 368.0 450.0 373.0 449.5 373.5 449.0 376.0 449.0 380.0 447.5 384.0 447.0 386.0 446.0 388.0 446.0 388.5 445.5 392.5 445.0 393.0 444.5 396.0 444.0 398.0 443.0 399.5 443.0 406.0 440.5 412.0 439.5 415.5 438.0 417.0 438.0 418.5 437.0 422.0 436.5 423.5 435.5 425.5 435.5 429.0 434.0 430.5 434.0 436.0 431.5 452.5 426.5 456.0 424.5 458.5 424.0 462.0 422.0 464.5 421.5 468.0 419.5 470.5 419.0 473.5 417.0 481.0 413.5 486.5 409.5 490.0 408.0 493.5 405.0 501.5 400.0 505.5 396.5 508.0 395.5 512.0 392.0 514.5 391.0 518.5 387.5 526.5 382.5 529.0 379.5 532.0 377.5 534.5 376.5 537.0 374.5 540.5 373.0 545.5 369.5 549.0 368.0 551.5 366.0 555.0 364.5 557.5 362.5 559.0 362.0 563.0 359.0 566.5 357.5 569.0 355.5 572.5 354.0 575.0 352.0 578.0 350.5 581.0 348.0 584.0 346.5 590.5 341.0 600.5 336.0 602.5 334.5 604.5 332.0 606.0 329.0 606.5 326.0 607.5 324.5 607.5 323.0 608.5 320.5 608.5 318.5 609.0 318.0 609.0 308.5 608.5 308.0 608.5 305.0 607.0 302.0Z"/>
<path fill="#d70000" fill-rule="evenodd" d="M491.0 605.5 490.5 605.0 490.0 601.5 487.5 596.5 482.0 591.5 473.0 586.5 472.0 586.5 462.5 583.0 457.5 582.0 457.0 581.5 451.0 581.0 450.5 580.5 447.0 580.5 446.5 580.0 443.0 580.0 442.5 579.5 434.5 579.5 434.0 579.0 415.0 579.5 414.5 580.0 410.0 580.0 409.5 580.5 401.0 581.0 400.5 581.5 398.0 581.5 397.5 582.0 394.0 582.5 388.0 585.5 385.5 586.0 381.0 589.0 374.0 592.5 368.0 597.0 362.0 604.0 359.0 608.5 358.5 610.0 357.5 611.0 357.0 614.0 356.0 615.5 355.5 618.0 357.0 621.5 362.0 626.5 364.5 627.5 365.5 628.5 366.5 628.5 368.5 629.5 370.0 629.5 370.5 630.0 372.0 630.0 372.5 630.5 374.0 630.5 374.5 631.0 376.0 631.0 376.5 631.5 378.5 631.5 379.0 632.0 381.0 632.0 381.5 632.5 384.0 632.5 384.5 633.0 390.5 633.5 391.0 634.0 394.5 634.0 395.0 634.5 405.0 635.5 405.5 636.0 409.0 636.0 409.5 636.5 412.5 636.5 413.0 637.0 416.5 637.0 417.0 637.5 420.5 637.5 421.0 638.0 428.0 638.5 428.5 639.0 435.0 639.0 435.5 639.5 440.0 639.5 440.5 640.0 446.0 640.0 446.5 639.5 451.0 639.5 451.5 639.0 459.0 638.5 459.5 638.0 463.0 637.5 474.0 632.5 475.0 631.5 478.5 630.0 480.5 628.5 486.5 621.5 489.5 616.0 490.5 611.0 491.0 610.5ZM636.5 530.5 634.5 531.5 633.0 533.0 632.0 535.0 632.0 537.5 634.5 540.5 636.5 541.5 639.0 541.5 640.5 540.5 643.0 537.5 643.0 535.0 642.0 533.0 639.0 530.5ZM776.5 499.5 776.5 502.5 777.5 504.5 781.0 507.5 783.0 508.5 785.0 508.5 785.5 509.0 790.5 509.0 791.0 508.5 793.0 508.5 796.0 507.0 798.5 504.5 799.5 502.5 799.5 499.5 798.5 497.5 796.0 495.0 793.0 493.5 791.0 493.5 790.5 493.0 785.5 493.0 785.0 493.5 783.0 493.5 779.5 495.5 777.5 497.5ZM515.0 351.5 513.5 348.5 508.0 343.5 504.5 342.0 503.5 341.0 500.5 339.5 499.5 339.5 494.0 336.5 491.5 336.0 490.0 335.0 486.0 334.5 482.0 333.0 479.5 333.0 479.0 332.5 476.5 332.5 476.0 332.0 473.0 332.0 472.5 331.5 470.0 331.5 469.5 331.0 463.5 331.0 463.0 330.5 457.5 330.5 457.0 330.0 441.0 330.0 440.5 330.5 425.5 331.0 425.0 331.5 422.5 331.5 422.0 332.0 416.0 332.0 415.5 332.5 413.0 332.5 412.5 333.0 410.0 333.0 409.5 333.5 407.0 333.5 406.5 334.0 403.5 334.0 403.0 334.5 401.0 334.5 397.0 336.0 391.5 336.5 387.5 338.0 382.0 338.5 381.5 339.0 379.5 339.0 379.0 339.5 377.5 339.5 375.0 340.5 369.0 341.0 368.5 341.5 366.5 341.5 362.5 343.0 356.5 343.5 356.0 344.0 354.0 344.0 351.5 345.0 346.5 345.5 346.0 346.0 344.0 346.0 343.5 346.5 338.0 347.5 331.5 351.0 329.0 354.0 327.0 357.5 324.5 360.0 324.0 361.5 322.0 364.0 316.5 374.5 316.0 377.0 314.0 380.5 314.0 381.5 312.5 385.0 312.5 386.5 310.5 391.5 310.0 395.0 309.5 395.5 309.5 398.0 309.0 398.5 309.0 401.0 308.5 401.5 308.5 409.5 309.0 410.0 309.0 414.0 310.0 415.5 311.0 419.5 315.0 424.5 315.5 424.5 319.0 428.0 322.5 430.5 326.5 432.5 327.5 432.5 331.0 434.0 358.5 434.0 359.0 433.5 364.5 433.5 365.0 433.0 367.5 433.0 368.0 432.5 371.0 432.5 371.5 432.0 374.5 432.0 375.0 431.5 377.5 431.5 378.0 431.0 381.0 431.0 381.5 430.5 388.0 430.0 388.5 429.5 391.0 429.5 391.5 429.0 394.5 429.0 395.0 428.5 397.0 428.5 397.5 428.0 401.5 427.5 402.0 427.0 405.0 427.0 405.5 426.5 407.0 426.5 407.5 426.0 409.0 426.0 411.5 425.0 414.0 425.0 414.5 424.5 416.0 424.5 417.5 423.5 419.0 423.5 421.5 422.5 423.5 422.5 426.5 421.0 427.5 421.0 431.0 419.0 438.0 417.0 441.5 415.0 444.0 414.5 452.0 410.5 453.0 409.5 459.5 406.5 462.5 404.0 465.5 402.5 471.0 398.0 472.5 397.5 475.5 394.5 477.0 394.0 480.5 390.5 481.0 390.5 492.5 379.5 493.0 379.5 499.0 373.5 499.0 373.0 504.0 368.0 504.0 367.5 505.5 366.5 506.5 364.5 509.5 361.5 514.0 355.5 515.0 353.5Z"/>
<path fill="#a50000" fill-rule="evenodd" d="M408.5 607.0 408.5 608.5 408.0 609.0 408.0 613.0 408.5 613.5 409.0 616.0 413.5 621.5 418.0 624.5 419.0 624.5 420.5 625.5 421.5 625.5 425.0 627.0 430.5 627.5 431.0 628.0 439.5 628.0 440.0 627.5 442.5 627.5 443.0 627.0 448.5 626.0 456.5 621.5 460.5 617.0 462.0 613.0 462.0 609.0 461.5 608.5 461.5 607.0 459.0 603.0 456.5 600.5 448.5 596.0 447.0 596.0 446.5 595.5 445.0 595.5 442.5 594.5 440.0 594.5 439.5 594.0 431.0 594.0 430.5 594.5 427.5 594.5 427.0 595.0 425.0 595.0 424.5 595.5 420.5 596.5 419.0 597.5 418.0 597.5 413.5 600.5 411.0 603.0ZM460.5 369.5 458.0 364.5 455.0 361.5 445.0 356.5 441.0 356.5 440.5 356.0 428.0 356.0 427.5 356.5 422.5 356.5 422.0 357.0 420.0 357.0 418.0 358.0 414.0 358.5 413.5 359.0 412.0 359.0 411.5 359.5 406.5 360.5 406.0 361.0 404.0 361.0 403.5 361.5 395.0 364.0 393.5 365.0 392.0 365.0 391.5 365.5 390.0 365.5 389.5 366.0 387.0 366.5 377.0 371.5 374.5 372.0 372.5 373.5 369.0 375.0 365.0 378.5 362.0 383.5 361.5 386.0 360.0 388.5 360.0 391.5 363.5 398.5 368.5 403.5 373.5 406.0 375.0 406.0 375.5 406.5 377.0 406.5 379.5 407.5 385.0 408.0 385.5 408.5 402.0 408.5 402.5 408.0 409.0 407.5 409.5 407.0 411.0 407.0 413.5 406.0 415.5 406.0 416.0 405.5 420.0 405.0 420.5 404.5 424.5 403.5 427.0 402.0 432.5 400.5 437.0 398.0 439.5 397.5 444.0 395.0 445.0 394.0 450.5 391.5 456.5 386.0 459.5 381.5 459.5 380.5 461.5 377.0 461.5 374.0 460.5 371.5Z"/></g>
<path d="M129.5 178 V708 M188.5 178 V708 M247.5 178 V708 M306.5 178 V708 M365.5 178 V708 M424.5 178 V708 M483.5 178 V708 M542.5 178 V708 M600.5 178 V708 M659.5 178 V708 M718.5 178 V708 M777.5 178 V708" stroke="#84767a" stroke-width="1" stroke-dasharray="2 4.85" stroke-dashoffset="2.85" fill="none" shape-rendering="crispEdges"/>
<path d="M100 213.5 H836 M100 249.5 H836 M100 284.5 H836 M100 319.5 H836 M100 355.5 H836 M100 390.5 H836 M100 425.5 H836 M100 461.5 H836 M100 496.5 H836 M100 531.5 H836 M100 567.5 H836 M100 602.5 H836 M100 637.5 H836 M100 673.5 H836" stroke="#84767a" stroke-width="1" stroke-dasharray="2 4.85" stroke-dashoffset="6.7" fill="none" shape-rendering="crispEdges"/>
<clipPath id="pc"><rect x="100" y="178" width="736" height="530"/></clipPath>
<path clip-path="url(#pc)" d="M585.3 177.9 L588.1 182.2 L597.5 185.0 L600.3 192.5 L601.3 197.2 L610.6 207.5 L616.2 214.0 L625.6 222.5 L627.5 233.8 L630.3 243.1 L632.2 246.0 L633.1 263.8 L635.0 278.8 L632.2 292.8 L636.9 301.2 L642.5 310.6 L643.4 320.0 L647.8 330.0 L647.8 345.0 L644.0 360.0 L639.0 375.0 L635.2 395.0 L630.2 425.0 L628.0 440.0 L627.3 446.2 L620.3 455.6 L616.4 465.0 L615.6 476.7 L601.6 490.0 L587.5 504.0 L578.0 518.5 L573.4 535.0 L567.2 556.2 L562.5 568.8 L554.7 581.2 L548.4 603.0 L543.0 604.0 L542.8 612.0 L539.8 631.5 L542.8 646.2 L535.9 658.9 L528.1 664.7 L485.2 667.7 L475.4 674.5 L461.7 686.2 L450.0 696.0 L449.7 694.0 L438.0 698.0 L438.0 708.0 M630.3 243.1 L631.2 224.4 L636.9 215.0 L635.0 226.2 L632.2 239.4 L630.3 243.1 M434.0 708.0 L426.2 698.0 L406.7 692.0 L398.9 681.3 L392.0 669.6 L379.4 676.5 L365.7 689.1 L350.0 702.8 L328.6 692.1 L316.9 687.2 L305.2 685.2 L295.2 687.4 L285.5 681.6 L269.8 673.8 L258.1 664.0 L247.4 654.2 L236.6 636.6 L242.5 627.9 L238.6 613.2 L226.9 593.7 L219.0 587.8 L228.8 582.0 L216.0 584.4 L206.0 589.4 L197.9 589.4 L201.0 580.0 L201.0 557.5 L196.0 548.8 L191.0 537.5 L184.8 546.2 L183.5 563.8 L179.1 574.4 L164.1 574.4 L158.5 565.0 L171.0 565.0 L174.8 552.5 L173.5 538.8 L176.0 526.2 L184.8 518.1 L184.8 510.0 L185.5 503.0 L186.2 491.0 L183.2 478.2 L181.0 494.0 L175.0 498.5 L169.1 510.0 L167.2 513.8 L159.8 521.2 L148.5 526.2 L139.8 535.0 L127.9 550.0 L126.6 552.5 L126.0 565.0 L117.2 561.2 L109.1 553.8 L108.5 545.0 L104.8 527.5 L101.0 523.8 L99.0 521.0 M398.9 681.3 L393.0 689.1 M147.2 599.4 L156.0 591.9 L167.2 589.4 L178.5 594.4 L191.0 596.2 L176.0 601.2 L171.0 604.4 L157.2 604.4 L151.0 600.0 L147.2 599.4" stroke="#000" stroke-width="1" fill="none" shape-rendering="crispEdges"/>
<g clip-path="url(#pc)"><path d="M100.0 178.0L115.4 174.9M111.4 173.6L115.4 174.9L112.2 177.7M129.4 178.0L144.9 173.7M140.8 172.6L144.9 173.7L142.0 176.7M158.9 178.0L174.7 172.3M170.6 171.6L174.7 172.3L172.0 175.5M188.3 178.0L204.6 172.2M200.4 171.4L204.6 172.2L201.9 175.4M217.8 178.0L232.9 172.9M228.8 172.0L232.9 172.9L230.1 176.0M247.2 178.0L262.1 174.0M258.0 172.9L262.1 174.0L259.1 177.0M276.6 178.0L292.1 175.5M288.2 174.0L292.1 175.5L288.8 178.2M306.1 178.0L323.0 176.6M319.2 174.8L323.0 176.6L319.5 179.0M335.5 178.0L353.3 177.3M349.6 175.3L353.3 177.3L349.8 179.5M365.0 178.0L382.6 177.6M378.9 175.6L382.6 177.6L379.0 179.8M394.4 178.0L410.8 177.8M407.1 175.8L410.8 177.8L407.2 180.0M423.8 178.0L439.7 177.7M436.0 175.7L439.7 177.7L436.1 179.9M453.3 178.0L469.0 177.2M465.3 175.3L469.0 177.2L465.5 179.5M482.7 178.0L498.9 176.4M495.1 174.7L498.9 176.4L495.5 178.8M512.2 178.0L530.3 175.1M526.3 173.6L530.3 175.1L527.0 177.8M541.6 178.0L561.2 174.1M557.2 172.7L561.2 174.1L558.0 176.9M571.0 178.0L591.8 173.2M587.8 172.0L591.8 173.2L588.7 176.1M600.5 178.0L622.3 173.2M618.3 171.9L622.3 173.2L619.2 176.0M629.9 178.0L653.3 174.3M649.4 172.8L653.3 174.3L650.0 176.9M659.4 178.0L682.9 175.6M679.1 173.9L682.9 175.6L679.5 178.1M688.8 178.0L711.2 176.2M707.4 174.4L711.2 176.2L707.8 178.6M718.2 178.0L739.4 176.5M735.7 174.7L739.4 176.5L736.0 178.9M747.7 178.0L768.4 177.0M764.6 175.1L768.4 177.0L764.8 179.2M777.1 178.0L797.1 177.2M793.4 175.2L797.1 177.2L793.6 179.4M806.6 178.0L825.1 177.6M821.4 175.6L825.1 177.6L821.5 179.8M100.0 213.3L117.5 209.8M113.5 208.5L117.5 209.8L114.3 212.6M129.4 213.3L147.3 208.3M143.2 207.3L147.3 208.3L144.3 211.3M158.9 213.3L176.5 207.0M172.4 206.2L176.5 207.0L173.8 210.2M188.3 213.3L205.8 207.0M201.7 206.3L205.8 207.0L203.1 210.3M217.8 213.3L234.7 207.6M230.6 206.8L234.7 207.6L231.9 210.7M247.2 213.3L263.7 208.9M259.6 207.8L263.7 208.9L260.7 211.9M276.6 213.3L293.7 210.6M289.8 209.1L293.7 210.6L290.5 213.2M306.1 213.3L324.1 211.9M320.3 210.1L324.1 211.9L320.6 214.3M335.5 213.3L354.1 212.6M350.4 210.6L354.1 212.6L350.5 214.8M365.0 213.3L383.8 213.0M380.1 210.9L383.8 213.0L380.2 215.1M394.4 213.3L413.3 213.1M409.6 211.1L413.3 213.1L409.7 215.3M423.8 213.3L442.7 213.0M439.1 210.9L442.7 213.0L439.2 215.1M453.3 213.3L472.7 212.4M468.9 210.4L472.7 212.4L469.2 214.6M482.7 213.3L503.0 211.3M499.2 209.6L503.0 211.3L499.6 213.8M512.2 213.3L533.4 209.9M529.5 208.4L533.4 209.9L530.2 212.6M541.6 213.3L564.0 208.9M560.0 207.5L564.0 208.9L560.9 211.6M571.0 213.3L594.9 207.8M590.9 206.6L594.9 207.8L591.8 210.7M600.5 213.3L625.3 207.9M621.3 206.6L625.3 207.9L622.2 210.7M629.9 213.3L655.3 209.3M651.4 207.8L655.3 209.3L652.0 211.9M659.4 213.3L684.5 210.8M680.6 209.1L684.5 210.8L681.1 213.3M688.8 213.3L712.8 211.4M709.0 209.6L712.8 211.4L709.4 213.8M718.2 213.3L740.9 211.7M737.1 209.9L740.9 211.7L737.4 214.1M747.7 213.3L768.9 212.3M765.2 210.4L768.9 212.3L765.4 214.6M777.1 213.3L797.4 212.5M793.6 210.6L797.4 212.5L793.8 214.8M806.6 213.3L825.6 213.0M821.9 210.9L825.6 213.0L822.0 215.1M100.0 248.7L120.0 245.7M116.1 244.1L120.0 245.7L116.7 248.3M129.4 248.7L149.5 243.7M145.4 242.5L149.5 243.7L146.4 246.6M158.9 248.7L179.0 243.0M174.9 242.0L179.0 243.0L176.1 246.0M188.3 248.7L208.6 243.0M204.5 242.0L208.6 243.0L205.6 246.0M217.8 248.7L238.0 243.8M234.0 242.6L238.0 243.8L235.0 246.7M247.2 248.7L267.3 245.0M263.4 243.6L267.3 245.0L264.1 247.8M276.6 248.7L296.8 246.4M293.0 244.8L296.8 246.4L293.4 248.9M306.1 248.7L326.6 247.2M322.8 245.4L326.6 247.2L323.1 249.6M335.5 248.7L356.5 247.6M352.7 245.7L356.5 247.6L353.0 249.9M365.0 248.7L386.3 247.6M382.6 245.7L386.3 247.6L382.8 249.9M394.4 248.7L416.1 247.4M412.3 245.5L416.1 247.4L412.6 249.7M423.8 248.7L446.1 247.6M442.4 245.6L446.1 247.6L442.6 249.8M453.3 248.7L476.3 247.5M472.6 245.6L476.3 247.5L472.8 249.8M482.7 248.7L506.9 246.5M503.1 244.7L506.9 246.5L503.5 248.9M512.2 248.7L537.4 245.1M533.5 243.6L537.4 245.1L534.1 247.7M541.6 248.7L568.1 244.4M564.2 242.9L568.1 244.4L564.8 247.1M571.0 248.7L598.4 243.8M594.4 242.3L598.4 243.8L595.1 246.5M600.5 248.7L628.0 243.7M624.1 242.3L628.0 243.7L624.8 246.4M629.9 248.7L657.6 245.6M653.7 243.9L657.6 245.6L654.2 248.1M659.4 248.7L686.1 247.6M682.4 245.6L686.1 247.6L682.6 249.8M688.8 248.7L714.6 248.7M711.0 246.6L714.6 248.7L711.0 250.8M718.2 248.7L742.6 249.4M739.0 247.2L742.6 249.4L738.9 251.4M747.7 248.7L769.8 249.8M766.2 247.5L769.8 249.8L766.0 251.7M777.1 248.7L797.5 249.3M793.9 247.1L797.5 249.3L793.8 251.3M806.6 248.7L825.5 248.3M821.8 246.3L825.5 248.3L821.9 250.5M100.0 284.0L122.3 281.3M118.5 279.7L122.3 281.3L119.0 283.8M129.4 284.0L151.7 279.8M147.7 278.4L151.7 279.8L148.5 282.5M158.9 284.0L181.3 278.4M177.3 277.2L181.3 278.4L178.3 281.3M188.3 284.0L211.5 278.2M207.5 277.1L211.5 278.2L208.5 281.1M217.8 284.0L241.7 279.0M237.7 277.7L241.7 279.0L238.5 281.8M247.2 284.0L271.6 281.3M267.7 279.6L271.6 281.3L268.2 283.8M276.6 284.0L301.2 282.8M297.5 280.9L301.2 282.8L297.7 285.0M306.1 284.0L330.9 283.5M327.2 281.5L330.9 283.5L327.3 285.7M335.5 284.0L360.6 283.5M356.9 281.5L360.6 283.5L357.0 285.7M365.0 284.0L390.3 282.7M386.6 280.8L390.3 282.7L386.8 285.0M394.4 284.0L420.4 281.9M416.6 280.1L420.4 281.9L416.9 284.3M423.8 284.0L450.6 280.8M446.7 279.1L450.6 280.8L447.2 283.3M453.3 284.0L480.7 280.2M476.8 278.6L480.7 280.2L477.4 282.7M482.7 284.0L510.7 280.6M506.9 279.0L510.7 280.6L507.4 283.2M512.2 284.0L540.9 279.4M537.0 277.9L540.9 279.4L537.7 282.0M541.6 284.0L571.0 278.4M567.0 277.0L571.0 278.4L567.8 281.2M571.0 284.0L601.1 279.5M597.1 278.0L601.1 279.5L597.8 282.1M600.5 284.0L630.3 281.3M626.5 279.6L630.3 281.3L626.9 283.7M629.9 284.0L658.9 282.6M655.1 280.6L658.9 282.6L655.3 284.8M659.4 284.0L687.7 285.1M684.1 282.9L687.7 285.1L683.9 287.1M688.8 284.0L716.5 286.8M713.1 284.3L716.5 286.8L712.6 288.5M718.2 284.0L744.5 287.4M741.2 284.9L744.5 287.4L740.7 289.0M747.7 284.0L772.0 288.1M768.8 285.5L772.0 288.1L768.1 289.6M777.1 284.0L800.1 287.2M796.8 284.6L800.1 287.2L796.3 288.8M806.6 284.0L828.9 284.4M825.3 282.3L828.9 284.4L825.2 286.5M100.0 319.3L125.2 317.6M121.5 315.7L125.2 317.6L121.8 319.9M129.4 319.3L154.1 315.9M150.3 314.3L154.1 315.9L150.8 318.5M158.9 319.3L183.7 313.9M179.7 312.6L183.7 313.9L180.6 316.7M188.3 319.3L213.7 313.2M209.7 312.0L213.7 313.2L210.7 316.1M217.8 319.3L243.8 313.6M239.8 312.3L243.8 313.6L240.7 316.4M247.2 319.3L274.4 315.8M270.6 314.2L274.4 315.8L271.1 318.3M276.6 319.3L304.7 317.4M300.9 315.5L304.7 317.4L301.2 319.7M306.1 319.3L335.1 318.5M331.4 316.5L335.1 318.5L331.5 320.7M335.5 319.3L365.3 319.0M361.7 317.0L365.3 319.0L361.7 321.2M365.0 319.3L395.3 317.5M391.5 315.6L395.3 317.5L391.8 319.8M394.4 319.3L425.0 316.0M421.2 314.3L425.0 316.0L421.6 318.5M423.8 319.3L454.9 314.4M451.0 312.9L454.9 314.4L451.6 317.0M453.3 319.3L484.7 314.3M480.7 312.8L484.7 314.3L481.4 317.0M482.7 319.3L514.1 314.3M510.2 312.8L514.1 314.3L510.9 317.0M512.2 319.3L543.2 313.1M539.2 311.8L543.2 313.1L540.0 315.9M541.6 319.3L572.4 312.9M568.4 311.6L572.4 312.9L569.2 315.7M571.0 319.3L602.1 314.7M598.2 313.1L602.1 314.7L598.8 317.3M600.5 319.3L631.1 316.6M627.3 314.8L631.1 316.6L627.6 319.0M629.9 319.3L659.0 319.0M655.3 317.0L659.0 319.0L655.3 321.2M659.4 319.3L687.5 321.6M684.1 319.2L687.5 321.6L683.7 323.4M688.8 319.3L716.7 323.5M713.5 320.9L716.7 323.5L712.8 325.1M718.2 319.3L746.3 323.8M743.1 321.2L746.3 323.8L742.4 325.3M747.7 319.3L775.5 323.8M772.2 321.1L775.5 323.8L771.6 325.3M777.1 319.3L804.8 323.2M801.4 320.6L804.8 323.2L800.9 324.8M806.6 319.3L834.3 320.4M830.8 318.2L834.3 320.4L830.6 322.4M100.0 354.7L128.1 353.8M124.4 351.8L128.1 353.8L124.5 356.0M129.4 354.7L157.4 352.7M153.6 350.9L157.4 352.7L153.9 355.1M158.9 354.7L186.5 349.7M182.5 348.3L186.5 349.7L183.2 352.4M188.3 354.7L215.8 348.4M211.8 347.1L215.8 348.4L212.7 351.2M217.8 354.7L245.6 349.1M241.6 347.8L245.6 349.1L242.4 351.9M247.2 354.7L275.6 350.1M271.6 348.6L275.6 350.1L272.3 352.8M276.6 354.7L306.1 351.1M302.3 349.5L306.1 351.1L302.8 353.6M306.1 354.7L337.6 352.8M333.8 350.9L337.6 352.8L334.0 355.1M335.5 354.7L368.8 352.7M365.0 350.8L368.8 352.7L365.3 355.0M365.0 354.7L398.8 351.3M395.0 349.6L398.8 351.3L395.4 353.7M394.4 354.7L428.8 349.2M424.9 347.7L428.8 349.2L425.5 351.8M423.8 354.7L458.7 348.0M454.8 346.7L458.7 348.0L455.6 350.8M453.3 354.7L487.9 348.1M484.0 346.7L487.9 348.1L484.7 350.8M482.7 354.7L516.3 348.3M512.4 346.9L516.3 348.3L513.2 351.0M512.2 354.7L544.9 349.1M540.9 347.6L544.9 349.1L541.6 351.8M541.6 354.7L572.5 349.7M568.5 348.2L572.5 349.7L569.2 352.4M571.0 354.7L601.2 352.0M597.4 350.2L601.2 352.0L597.8 354.4M600.5 354.7L629.0 353.8M625.3 351.8L629.0 353.8L625.4 356.0M629.9 354.7L656.9 356.6M653.5 354.2L656.9 356.6L653.2 358.4M659.4 354.7L685.2 358.8M682.0 356.2L685.2 358.8L681.3 360.3M688.8 354.7L714.6 359.1M711.4 356.4L714.6 359.1L710.7 360.5M718.2 354.7L745.1 358.4M741.8 355.8L745.1 358.4L741.2 360.0M747.7 354.7L775.5 357.7M772.2 355.2L775.5 357.7L771.7 359.4M777.1 354.7L805.2 358.0M801.8 355.5L805.2 358.0L801.3 359.7M806.6 354.7L834.8 356.4M831.3 354.0L834.8 356.4L831.0 358.2M100.0 390.0L128.9 389.1M125.2 387.1L128.9 389.1L125.3 391.3M129.4 390.0L158.3 388.3M154.5 386.4L158.3 388.3L154.8 390.6M158.9 390.0L187.5 386.0M183.6 384.4L187.5 386.0L184.2 388.6M188.3 390.0L216.5 383.8M212.5 382.5L216.5 383.8L213.4 386.6M217.8 390.0L246.1 384.6M242.2 383.2L246.1 384.6L242.9 387.4M247.2 390.0L276.1 385.7M272.2 384.1L276.1 385.7L272.8 388.3M276.6 390.0L306.6 384.0M302.6 382.7L306.6 384.0L303.4 386.8M306.1 390.0L338.3 384.5M334.3 383.1L338.3 384.5L335.0 387.2M335.5 390.0L369.6 385.6M365.7 384.0L369.6 385.6L366.2 388.1M365.0 390.0L400.7 385.3M396.9 383.7L400.7 385.3L397.4 387.9M394.4 390.0L430.6 384.2M426.7 382.7L430.6 384.2L427.3 386.9M423.8 390.0L459.6 382.9M455.6 381.5L459.6 382.9L456.4 385.6M453.3 390.0L488.5 384.7M484.6 383.2L488.5 384.7L485.2 387.3M482.7 390.0L515.4 386.4M511.6 384.7L515.4 386.4L512.0 388.9M512.2 390.0L542.6 387.9M538.8 386.0L542.6 387.9L539.1 390.2M541.6 390.0L569.0 389.2M565.3 387.2L569.0 389.2L565.4 391.4M571.0 390.0L596.3 389.5M592.6 387.5L596.3 389.5L592.7 391.7M600.5 390.0L623.9 389.5M620.2 387.5L623.9 389.5L620.3 391.7M629.9 390.0L653.4 391.2M649.8 388.9L653.4 391.2L649.6 393.1M659.4 390.0L683.0 393.1M679.6 390.5L683.0 393.1L679.1 394.7M688.8 390.0L712.2 395.4M709.1 392.5L712.2 395.4L708.1 396.6M718.2 390.0L742.4 394.3M739.1 391.6L742.4 394.3L738.4 395.8M747.7 390.0L772.7 393.3M769.4 390.7L772.7 393.3L768.8 394.9M777.1 390.0L801.9 392.7M798.5 390.2L801.9 392.7L798.0 394.4M806.6 390.0L831.1 392.0M827.6 389.6L831.1 392.0L827.3 393.8M100.0 425.3L128.9 424.5M125.2 422.5L128.9 424.5L125.3 426.7M129.4 425.3L158.2 423.0M154.4 421.2L158.2 423.0L154.8 425.4M158.9 425.3L187.4 420.8M183.5 419.3L187.4 420.8L184.1 423.4M188.3 425.3L216.6 419.7M212.7 418.3L216.6 419.7L213.5 422.4M217.8 425.3L245.9 418.9M241.9 417.6L245.9 418.9L242.8 421.7M247.2 425.3L275.9 418.2M271.8 417.0L275.9 418.2L272.9 421.1M276.6 425.3L306.6 416.9M302.5 415.9L306.6 416.9L303.7 419.9M306.1 425.3L337.9 418.3M333.9 417.1L337.9 418.3L334.8 421.2M335.5 425.3L368.6 419.7M364.6 418.3L368.6 419.7L365.3 422.4M365.0 425.3L398.4 420.7M394.5 419.1L398.4 420.7L395.1 423.2M394.4 425.3L427.6 420.7M423.7 419.1L427.6 420.7L424.2 423.3M423.8 425.3L455.9 420.8M452.0 419.3L455.9 420.8L452.6 423.4M453.3 425.3L483.6 422.9M479.8 421.1L483.6 422.9L480.1 425.3M482.7 425.3L510.3 424.5M506.6 422.5L510.3 424.5L506.8 426.7M512.2 425.3L535.6 425.3M532.0 423.2L535.6 425.3L532.0 427.4M541.6 425.3L561.4 427.7M558.0 425.2L561.4 427.7L557.5 429.4M571.0 425.3L586.9 427.6M583.6 425.0L586.9 427.6L583.1 429.1M600.5 425.3L616.8 426.2M613.3 423.9L616.8 426.2L613.1 428.1M629.9 425.3L650.2 426.3M646.6 424.1L650.2 426.3L646.4 428.3M659.4 425.3L683.0 428.9M679.7 426.3L683.0 428.9L679.1 430.4M688.8 425.3L713.5 432.2M710.5 429.2L713.5 432.2L709.4 433.3M718.2 425.3L743.2 433.3M740.4 430.2L743.2 433.3L739.1 434.2M747.7 425.3L772.9 432.4M770.0 429.4L772.9 432.4L768.9 433.4M777.1 425.3L801.2 430.9M798.1 428.0L801.2 430.9L797.2 432.1M806.6 425.3L830.3 430.1M827.1 427.3L830.3 430.1L826.3 431.4M100.0 460.7L128.8 458.1M124.9 456.3L128.8 458.1L125.3 460.5M129.4 460.7L158.1 456.9M154.2 455.3L158.1 456.9L154.7 459.5M158.9 460.7L187.2 455.0M183.2 453.7L187.2 455.0L184.0 457.8M188.3 460.7L216.3 453.4M212.2 452.3L216.3 453.4L213.3 456.3M217.8 460.7L245.5 452.6M241.4 451.6L245.5 452.6L242.6 455.7M247.2 460.7L275.1 451.7M271.0 450.9L275.1 451.7L272.3 454.9M276.6 460.7L305.0 450.7M300.9 449.9L305.0 450.7L302.3 453.9M306.1 460.7L335.1 451.4M331.0 450.5L335.1 451.4L332.3 454.5M335.5 460.7L364.8 454.2M360.8 453.0L364.8 454.2L361.7 457.1M365.0 460.7L393.7 456.1M389.8 454.6L393.7 456.1L390.4 458.7M394.4 460.7L422.0 457.1M418.2 455.5L422.0 457.1L418.7 459.6M423.8 460.7L448.6 458.7M444.8 456.9L448.6 458.7L445.2 461.1M453.3 460.7L475.9 460.0M472.2 458.0L475.9 460.0L472.3 462.2M482.7 460.7L503.3 462.3M499.8 459.9L503.3 462.3L499.5 464.1M512.2 460.7L530.5 464.3M527.3 461.6L530.5 464.3L526.5 465.7M541.6 460.7L556.8 465.4M553.9 462.3L556.8 465.4L552.7 466.3M571.0 460.7L584.0 464.4M581.1 461.4L584.0 464.4L580.0 465.4M600.5 460.7L615.7 464.5M612.6 461.5L615.7 464.5L611.6 465.6M629.9 460.7L652.3 462.9M648.9 460.5L652.3 462.9L648.5 464.6M659.4 460.7L685.7 464.4M682.4 461.8L685.7 464.4L681.8 465.9M688.8 460.7L716.2 466.4M713.1 463.6L716.2 466.4L712.2 467.7M718.2 460.7L746.0 468.2M743.0 465.2L746.0 468.2L741.9 469.2M747.7 460.7L776.9 467.7M773.9 464.8L776.9 467.7L772.9 468.9M777.1 460.7L807.0 464.8M803.7 462.3L807.0 464.8L803.1 466.4M806.6 460.7L835.8 463.0M832.4 460.6L835.8 463.0L832.0 464.8M100.0 496.0L128.7 492.8M124.9 491.2L128.7 492.8L125.3 495.3M129.4 496.0L158.0 491.7M154.1 490.2L158.0 491.7L154.7 494.3M158.9 496.0L187.2 490.6M183.2 489.2L187.2 490.6L184.0 493.4M188.3 496.0L216.3 489.3M212.3 488.1L216.3 489.3L213.3 492.2M217.8 496.0L245.5 488.0M241.4 487.0L245.5 488.0L242.6 491.0M247.2 496.0L274.4 486.2M270.2 485.5L274.4 486.2L271.7 489.4M276.6 496.0L303.4 485.3M299.2 484.7L303.4 485.3L300.8 488.6M306.1 496.0L332.4 486.3M328.3 485.6L332.4 486.3L329.7 489.5M335.5 496.0L361.3 488.3M357.2 487.3L361.3 488.3L358.4 491.3M365.0 496.0L390.2 490.7M386.2 489.4L390.2 490.7L387.1 493.5M394.4 496.0L417.8 492.5M413.9 490.9L417.8 492.5L414.6 495.1M423.8 496.0L445.3 494.3M441.5 492.5L445.3 494.3L441.8 496.7M453.3 496.0L473.0 495.6M469.3 493.6L473.0 495.6L469.4 497.8M482.7 496.0L501.7 497.3M498.2 495.0L501.7 497.3L497.9 499.2M512.2 496.0L530.7 500.5M527.7 497.6L530.7 500.5L526.7 501.7M541.6 496.0L559.8 502.9M557.1 499.6L559.8 502.9L555.6 503.6M571.0 496.0L589.0 504.8M586.7 501.3L589.0 504.8L584.8 505.1M600.5 496.0L621.2 506.6M618.9 503.0L621.2 506.6L617.0 506.8M629.9 496.0L656.5 505.3M653.8 502.1L656.5 505.3L652.4 506.1M659.4 496.0L688.8 503.4M685.8 500.4L688.8 503.4L684.8 504.5M688.8 496.0L717.7 502.1M714.6 499.3L717.7 502.1L713.7 503.4M718.2 496.0L747.0 502.0M743.9 499.2L747.0 502.0L743.0 503.3M747.7 496.0L778.3 501.2M775.1 498.5L778.3 501.2L774.4 502.7M777.1 496.0L809.7 500.2M806.4 497.7L809.7 500.2L805.9 501.9M806.6 496.0L838.8 499.2M835.4 496.8L838.8 499.2L835.0 501.0M100.0 531.3L127.8 527.7M124.0 526.1L127.8 527.7L124.5 530.3M129.4 531.3L156.8 526.4M152.9 525.0L156.8 526.4L153.6 529.1M158.9 531.3L185.7 525.2M181.7 523.9L185.7 525.2L182.7 528.0M188.3 531.3L214.9 524.2M210.8 523.1L214.9 524.2L211.9 527.1M217.8 531.3L244.1 522.4M240.0 521.5L244.1 522.4L241.4 525.5M247.2 531.3L273.9 521.2M269.8 520.5L273.9 521.2L271.3 524.4M276.6 531.3L303.4 520.9M299.3 520.3L303.4 520.9L300.8 524.2M306.1 531.3L332.4 521.9M328.3 521.1L332.4 521.9L329.7 525.1M335.5 531.3L361.7 524.8M357.7 523.6L361.7 524.8L358.7 527.7M365.0 531.3L391.1 526.6M387.1 525.2L391.1 526.6L387.9 529.3M394.4 531.3L419.6 529.3M415.8 527.5L419.6 529.3L416.1 531.7M423.8 531.3L448.0 531.3M444.4 529.2L448.0 531.3L444.4 533.4M453.3 531.3L476.7 532.0M473.1 529.8L476.7 532.0L473.0 534.0M482.7 531.3L505.8 533.2M502.3 530.8L505.8 533.2L502.0 535.0M512.2 531.3L535.5 533.9M532.2 531.4L535.5 533.9L531.7 535.6M541.6 531.3L565.6 534.9M562.3 532.3L565.6 534.9L561.7 536.5M571.0 531.3L596.2 537.9M593.2 534.9L596.2 537.9L592.1 539.0M600.5 531.3L628.7 541.8M626.0 538.5L628.7 541.8L624.5 542.5M629.9 531.3L660.8 541.8M658.0 538.7L660.8 541.8L656.7 542.6M659.4 531.3L691.1 535.5M687.8 532.9L691.1 535.5L687.2 537.1M688.8 531.3L719.0 535.9M715.7 533.3L719.0 535.9L715.1 537.4M718.2 531.3L747.9 535.8M744.6 533.2L747.9 535.8L743.9 537.3M747.7 531.3L778.5 535.0M775.2 532.5L778.5 535.0L774.7 536.7M777.1 531.3L808.8 534.5M805.4 532.1L808.8 534.5L805.0 536.2M806.6 531.3L837.8 533.8M834.3 531.4L837.8 533.8L834.0 535.6M100.0 566.7L126.0 565.1M122.3 563.2L126.0 565.1L122.5 567.4M129.4 566.7L155.2 565.1M151.5 563.2L155.2 565.1L151.7 567.4M158.9 566.7L184.5 564.4M180.7 562.6L184.5 564.4L181.1 566.8M188.3 566.7L213.9 561.8M209.9 560.4L213.9 561.8L210.7 564.5M217.8 566.7L243.6 559.2M239.5 558.2L243.6 559.2L240.7 562.2M247.2 566.7L274.0 557.6M269.9 556.7L274.0 557.6L271.2 560.7M276.6 566.7L303.9 556.3M299.7 555.6L303.9 556.3L301.2 559.6M306.1 566.7L333.7 556.7M329.6 556.0L333.7 556.7L331.0 559.9M335.5 566.7L363.8 558.5M359.7 557.5L363.8 558.5L360.9 561.5M365.0 566.7L394.5 561.9M390.6 560.4L394.5 561.9L391.2 564.6M394.4 566.7L424.9 565.1M421.2 563.2L424.9 565.1L421.4 567.4M423.8 566.7L454.5 567.0M450.9 564.8L454.5 567.0L450.9 569.0M453.3 566.7L483.7 568.5M480.2 566.2L483.7 568.5L480.0 570.4M482.7 566.7L511.9 568.1M508.4 565.8L511.9 568.1L508.2 570.0M512.2 566.7L540.3 568.9M536.8 566.5L540.3 568.9L536.5 570.7M541.6 566.7L569.5 568.9M566.0 566.5L569.5 568.9L565.7 570.7M571.0 566.7L599.6 570.1M596.2 567.6L599.6 570.1L595.7 571.7M600.5 566.7L630.5 572.1M627.2 569.4L630.5 572.1L626.5 573.5M629.9 566.7L660.5 571.9M657.3 569.2L660.5 571.9L656.6 573.3M659.4 566.7L689.9 571.6M686.7 568.9L689.9 571.6L686.0 573.1M688.8 566.7L719.5 571.0M716.2 568.4L719.5 571.0L715.6 572.5M718.2 566.7L749.3 570.1M745.9 567.6L749.3 570.1L745.5 571.8M747.7 566.7L778.8 568.8M775.3 566.5L778.8 568.8L775.0 570.7M777.1 566.7L807.8 568.2M804.2 565.9L807.8 568.2L804.0 570.1M806.6 566.7L835.5 568.1M832.0 565.8L835.5 568.1L831.8 570.0M100.0 602.0L124.1 600.8M120.4 598.9L124.1 600.8L120.6 603.1M129.4 602.0L153.4 600.8M149.6 598.9L153.4 600.8L149.8 603.1M158.9 602.0L182.8 600.6M179.1 598.7L182.8 600.6L179.3 602.9M188.3 602.0L213.5 596.5M209.5 595.2L213.5 596.5L210.4 599.3M217.8 602.0L244.1 593.6M239.9 592.7L244.1 593.6L241.2 596.7M247.2 602.0L274.1 591.2M270.0 590.6L274.1 591.2L271.5 594.5M276.6 602.0L304.6 590.2M300.5 589.7L304.6 590.2L302.1 593.6M306.1 602.0L334.8 590.2M330.7 589.6L334.8 590.2L332.3 593.5M335.5 602.0L365.1 590.8M361.0 590.1L365.1 590.8L362.5 594.0M365.0 602.0L397.5 595.8M393.5 594.4L397.5 595.8L394.3 598.6M394.4 602.0L428.9 600.6M425.2 598.7L428.9 600.6L425.3 602.9M423.8 602.0L459.9 604.2M456.4 601.9L459.9 604.2L456.2 606.0M453.3 602.0L488.8 607.3M485.5 604.7L488.8 607.3L484.9 608.9M482.7 602.0L516.2 606.0M512.8 603.5L516.2 606.0L512.3 607.7M512.2 602.0L542.7 606.3M539.4 603.7L542.7 606.3L538.8 607.9M541.6 602.0L570.0 606.3M566.8 603.6L570.0 606.3L566.1 607.8M571.0 602.0L598.7 605.6M595.3 603.0L598.7 605.6L594.8 607.2M600.5 602.0L627.5 605.5M624.2 603.0L627.5 605.5L623.7 607.1M629.9 602.0L656.3 606.2M653.1 603.6L656.3 606.2L652.4 607.7M659.4 602.0L685.5 607.0M682.4 604.2L685.5 607.0L681.6 608.4M688.8 602.0L715.7 607.1M712.5 604.4L715.7 607.1L711.7 608.5M718.2 602.0L746.2 606.2M743.0 603.6L746.2 606.2L742.3 607.7M747.7 602.0L775.6 605.4M772.2 602.8L775.6 605.4L771.7 607.0M777.1 602.0L803.7 604.9M800.3 602.4L803.7 604.9L799.9 606.6M806.6 602.0L830.4 605.3M827.1 602.7L830.4 605.3L826.5 606.9M100.0 637.3L123.4 636.6M119.7 634.6L123.4 636.6L119.8 638.8M129.4 637.3L152.9 636.6M149.2 634.6L152.9 636.6L149.3 638.8M158.9 637.3L183.0 634.2M179.1 632.6L183.0 634.2L179.6 636.8M188.3 637.3L213.6 630.5M209.6 629.4L213.6 630.5L210.7 633.5M217.8 637.3L243.8 626.7M239.6 626.1L243.8 626.7L241.2 630.0M247.2 637.3L273.4 623.4M269.2 623.3L273.4 623.4L271.2 627.0M276.6 637.3L303.4 621.5M299.2 621.6L303.4 621.5L301.4 625.2M306.1 637.3L333.4 621.8M329.2 621.7L333.4 621.8L331.3 625.4M335.5 637.3L364.3 625.0M360.1 624.5L364.3 625.0L361.8 628.3M365.0 637.3L395.8 629.6M391.7 628.5L395.8 629.6L392.8 632.6M394.4 637.3L426.8 636.0M423.1 634.1L426.8 636.0L423.2 638.3M423.8 637.3L456.8 641.9M453.4 639.4L456.8 641.9L452.9 643.5M453.3 637.3L485.3 646.9M482.4 643.9L485.3 646.9L481.2 647.9M482.7 637.3L512.7 647.5M510.0 644.4L512.7 647.5L508.6 648.4M512.2 637.3L540.1 646.0M537.3 642.9L540.1 646.0L536.0 646.9M541.6 637.3L567.4 643.0M564.3 640.2L567.4 643.0L563.4 644.3M571.0 637.3L594.7 643.0M591.7 640.1L594.7 643.0L590.7 644.2M600.5 637.3L621.8 642.0M618.7 639.2L621.8 642.0L617.8 643.3M629.9 637.3L650.5 642.1M647.4 639.2L650.5 642.1L646.4 643.3M659.4 637.3L680.1 642.1M677.0 639.2L680.1 642.1L676.0 643.3M688.8 637.3L710.2 640.8M707.0 638.1L710.2 640.8L706.3 642.3M718.2 637.3L739.6 640.8M736.4 638.1L739.6 640.8L735.7 642.3M747.7 637.3L768.1 640.6M764.8 637.9L768.1 640.6L764.1 642.1M777.1 637.3L796.0 640.5M792.8 637.9L796.0 640.5L792.1 642.0M806.6 637.3L824.4 642.9M821.6 639.8L824.4 642.9L820.4 643.8M100.0 672.7L123.4 672.0M119.7 670.0L123.4 672.0L119.8 674.2M129.4 672.7L152.9 671.0M149.1 669.2L152.9 671.0L149.4 673.4M158.9 672.7L183.1 668.8M179.2 667.3L183.1 668.8L179.9 671.4M188.3 672.7L213.3 664.2M209.1 663.4L213.3 664.2L210.5 667.3M217.8 672.7L242.4 659.3M238.2 659.2L242.4 659.3L240.2 662.9M247.2 672.7L272.2 656.9M268.0 657.1L272.2 656.9L270.2 660.6M276.6 672.7L301.2 654.0M297.0 654.5L301.2 654.0L299.6 657.9M306.1 672.7L331.0 655.5M326.8 655.8L331.0 655.5L329.2 659.3M335.5 672.7L358.8 658.5M354.6 658.6L358.8 658.5L356.8 662.2M365.0 672.7L388.2 666.4M384.1 665.3L388.2 666.4L385.2 669.4M394.4 672.7L417.2 673.8M413.7 671.5L417.2 673.8L413.4 675.7M423.8 672.7L445.7 681.6M443.1 678.3L445.7 681.6L441.5 682.2M453.3 672.7L475.0 685.3M472.9 681.6L475.0 685.3L470.8 685.2M482.7 672.7L503.4 684.7M501.3 681.0L503.4 684.7L499.2 684.6M512.2 672.7L530.6 682.8M528.5 679.2L530.6 682.8L526.4 682.9M541.6 672.7L558.1 680.7M555.7 677.2L558.1 680.7L553.9 681.0M571.0 672.7L586.9 679.2M584.4 675.9L586.9 679.2L582.8 679.8M600.5 672.7L616.4 677.5M613.6 674.4L616.4 677.5L612.3 678.4M629.9 672.7L645.9 676.5M642.8 673.6L645.9 676.5L641.8 677.7M659.4 672.7L675.6 675.8M672.4 673.0L675.6 675.8L671.7 677.1M688.8 672.7L705.4 675.6M702.1 672.9L705.4 675.6L701.4 677.1M718.2 672.7L734.5 675.4M731.2 672.7L734.5 675.4L730.5 676.9M747.7 672.7L763.4 676.3M760.3 673.4L763.4 676.3L759.4 677.5M777.1 672.7L792.1 678.1M789.4 674.9L792.1 678.1L788.0 678.8M806.6 672.7L821.4 680.2M819.1 676.7L821.4 680.2L817.2 680.4M100.0 708.0L123.3 706.8M119.6 704.9L123.3 706.8L119.8 709.1M129.4 708.0L152.7 705.7M148.9 703.9L152.7 705.7L149.3 708.1M158.9 708.0L182.6 703.0M178.6 701.7L182.6 703.0L179.4 705.8M188.3 708.0L212.6 699.2M208.5 698.5L212.6 699.2L209.9 702.5M217.8 708.0L241.5 694.5M237.3 694.5L241.5 694.5L239.4 698.1M247.2 708.0L269.8 690.4M265.7 690.9L269.8 690.4L268.2 694.3M276.6 708.0L296.9 687.7M292.9 688.8L296.9 687.7L295.9 691.7M306.1 708.0L324.4 689.6M320.4 690.7L324.4 689.6L323.4 693.7M335.5 708.0L350.7 695.9M346.5 696.5L350.7 695.9L349.2 699.8M365.0 708.0L377.0 703.2M372.8 702.6L377.0 703.2L374.4 706.5M394.4 708.0L405.0 709.1M401.6 706.6L405.0 709.1L401.1 710.8M423.8 708.0L433.3 712.7M431.0 709.2L433.3 712.7L429.1 713.0M453.3 708.0L462.2 714.2M460.4 710.4L462.2 714.2L458.0 713.9M482.7 708.0L493.6 715.6M491.8 711.8L493.6 715.6L489.4 715.2M512.2 708.0L523.3 715.3M521.4 711.5L523.3 715.3L519.2 715.0M541.6 708.0L553.2 714.4M551.1 710.8L553.2 714.4L549.0 714.5M571.0 708.0L583.1 713.4M580.7 710.0L583.1 713.4L578.9 713.9M600.5 708.0L612.9 712.4M610.2 709.2L612.9 712.4L608.8 713.1M629.9 708.0L642.6 711.8M639.7 708.7L642.6 711.8L638.5 712.8M659.4 708.0L672.2 711.2M669.2 708.3L672.2 711.2L668.2 712.4M688.8 708.0L701.9 710.9M698.8 708.1L701.9 710.9L697.9 712.2M718.2 708.0L731.6 710.9M728.5 708.1L731.6 710.9L727.5 712.2M747.7 708.0L761.9 712.0M758.9 709.0L761.9 712.0L757.8 713.0M777.1 708.0L791.4 713.7M788.8 710.4L791.4 713.7L787.2 714.3M806.6 708.0L821.0 716.0M818.9 712.4L821.0 716.0L816.8 716.1" stroke="#000" stroke-width="1" fill="none" shape-rendering="crispEdges"/></g>
<path d="M99 178H838 M99 709H838 M100 177V710 M837 177V710" fill="none" stroke="#000" stroke-width="2" shape-rendering="crispEdges"/>
<path d="M100 178.5 H836 M100 708.5 H836" stroke="#84767a" stroke-width="1" stroke-dasharray="2 4.85" stroke-dashoffset="6.7" fill="none" shape-rendering="crispEdges"/>
<path d="M836.5 178 V708" stroke="#84767a" stroke-width="1" stroke-dasharray="2 4.85" stroke-dashoffset="2.85" fill="none" shape-rendering="crispEdges"/>
<path d="M95 178.5 H100 M95 213.5 H100 M95 249.5 H100 M95 284.5 H100 M95 319.5 H100 M95 355.5 H100 M95 390.5 H100 M95 425.5 H100 M95 461.5 H100 M95 496.5 H100 M95 531.5 H100 M95 567.5 H100 M95 602.5 H100 M95 637.5 H100 M95 673.5 H100 M95 708.5 H100 M129.5 708 V712.5 M188.5 708 V712.5 M247.5 708 V712.5 M306.5 708 V712.5 M365.5 708 V712.5 M424.5 708 V712.5 M483.5 708 V712.5 M542.5 708 V712.5 M600.5 708 V712.5 M659.5 708 V712.5 M718.5 708 V712.5 M777.5 708 V712.5 M836.5 708 V712.5" stroke="#000" stroke-width="1.2"/>
<path d="M74.91 176.28 L75.25 175.34 L76.07 174.91 L77.43 174.91 L78.25 175.50 L78.55 176.68 L78.25 177.86 L74.71 181.80 L78.79 181.80 M84.80 181.80 L84.80 174.91 L81.88 179.59 L85.82 179.59 M92.99 175.89 L92.48 175.10 L91.12 174.87 L89.76 175.10 L89.11 175.89 L89.11 176.91 L89.73 177.74 L92.17 178.81 L92.99 179.75 L92.99 180.78 L92.31 181.68 L90.95 181.80 L89.59 181.60 L88.91 180.78 M74.91 211.62 L75.25 210.67 L76.07 210.24 L77.43 210.24 L78.25 210.83 L78.55 212.01 L78.25 213.19 L74.71 217.13 L78.79 217.13 M85.52 210.24 L82.52 210.24 L82.18 213.27 L83.17 212.80 L84.36 212.80 L85.35 213.35 L85.72 214.93 L85.38 216.35 L84.36 217.13 L83.17 217.13 L82.12 216.66 M92.99 211.22 L92.48 210.44 L91.12 210.20 L89.76 210.44 L89.11 211.22 L89.11 212.25 L89.73 213.08 L92.17 214.14 L92.99 215.08 L92.99 216.11 L92.31 217.02 L90.95 217.13 L89.59 216.94 L88.91 216.11 M74.91 246.95 L75.25 246.01 L76.07 245.57 L77.43 245.57 L78.25 246.16 L78.55 247.34 L78.25 248.53 L74.71 252.47 L78.79 252.47 M85.48 246.16 L84.80 245.57 L83.78 245.57 L82.76 246.16 L82.18 247.74 L82.08 250.10 L82.39 251.68 L83.27 252.47 L84.33 252.47 L85.28 251.68 L85.62 250.26 L85.28 248.92 L84.33 248.29 L83.27 248.29 L82.42 248.92 L82.08 250.10 M92.99 246.56 L92.48 245.77 L91.12 245.53 L89.76 245.77 L89.11 246.56 L89.11 247.58 L89.73 248.41 L92.17 249.47 L92.99 250.42 L92.99 251.44 L92.31 252.35 L90.95 252.47 L89.59 252.27 L88.91 251.44 M74.91 282.28 L75.25 281.34 L76.07 280.91 L77.43 280.91 L78.25 281.50 L78.55 282.68 L78.25 283.86 L74.71 287.80 L78.79 287.80 M81.98 280.91 L85.72 280.91 L83.20 287.80 M92.99 281.89 L92.48 281.10 L91.12 280.87 L89.76 281.10 L89.11 281.89 L89.11 282.91 L89.73 283.74 L92.17 284.81 L92.99 285.75 L92.99 286.78 L92.31 287.68 L90.95 287.80 L89.59 287.60 L88.91 286.78 M74.91 317.62 L75.25 316.67 L76.07 316.24 L77.43 316.24 L78.25 316.83 L78.55 318.01 L78.25 319.19 L74.71 323.13 L78.79 323.13 M85.38 317.89 L85.31 318.40 L85.09 318.87 L84.75 319.23 L84.32 319.47 L83.85 319.55 L83.38 319.47 L82.95 319.23 L82.61 318.87 L82.39 318.40 L82.32 317.89 L82.39 317.38 L82.61 316.92 L82.95 316.55 L83.38 316.32 L83.85 316.24 L84.32 316.32 L84.75 316.55 L85.09 316.92 L85.31 317.38 L85.38 317.89 M85.72 321.32 L85.63 321.88 L85.36 322.39 L84.95 322.79 L84.43 323.04 L83.85 323.13 L83.27 323.04 L82.75 322.79 L82.34 322.39 L82.07 321.88 L81.98 321.32 L82.07 320.76 L82.34 320.26 L82.75 319.85 L83.27 319.60 L83.85 319.51 L84.43 319.60 L84.95 319.85 L85.36 320.26 L85.63 320.76 L85.72 321.32 M92.99 317.22 L92.48 316.44 L91.12 316.20 L89.76 316.44 L89.11 317.22 L89.11 318.25 L89.73 319.08 L92.17 320.14 L92.99 321.08 L92.99 322.11 L92.31 323.02 L90.95 323.13 L89.59 322.94 L88.91 322.11 M74.91 352.95 L75.25 352.01 L76.07 351.57 L77.43 351.57 L78.25 352.16 L78.55 353.34 L78.25 354.53 L74.71 358.47 L78.79 358.47 M85.62 353.94 L85.28 355.16 L84.33 355.75 L83.31 355.75 L82.42 355.16 L82.08 353.82 L82.42 352.32 L83.31 351.57 L84.39 351.57 L85.28 352.32 L85.62 353.94 L85.62 356.10 L85.28 357.68 L84.33 358.47 L83.31 358.47 L82.49 357.92 M92.99 352.56 L92.48 351.77 L91.12 351.53 L89.76 351.77 L89.11 352.56 L89.11 353.58 L89.73 354.41 L92.17 355.47 L92.99 356.42 L92.99 357.44 L92.31 358.35 L90.95 358.47 L89.59 358.27 L88.91 357.44 M74.95 386.91 L78.48 386.91 L76.44 389.62 L77.46 389.62 L78.35 390.25 L78.76 391.59 L78.48 392.93 L77.46 393.80 L76.17 393.80 L75.15 393.41 L74.74 392.62 M85.62 390.35 L85.56 391.24 L85.38 392.08 L85.10 392.79 L84.73 393.34 L84.31 393.68 L83.85 393.80 L83.39 393.68 L82.97 393.34 L82.60 392.79 L82.32 392.08 L82.14 391.24 L82.08 390.35 L82.14 389.46 L82.32 388.63 L82.60 387.91 L82.97 387.37 L83.39 387.02 L83.85 386.91 L84.31 387.02 L84.73 387.37 L85.10 387.91 L85.38 388.63 L85.56 389.46 L85.62 390.35 M92.99 387.89 L92.48 387.10 L91.12 386.87 L89.76 387.10 L89.11 387.89 L89.11 388.91 L89.73 389.74 L92.17 390.81 L92.99 391.75 L92.99 392.78 L92.31 393.68 L90.95 393.80 L89.59 393.60 L88.91 392.78 M74.95 422.24 L78.48 422.24 L76.44 424.96 L77.46 424.96 L78.35 425.59 L78.76 426.93 L78.48 428.27 L77.46 429.13 L76.17 429.13 L75.15 428.74 L74.74 427.95 M83.49 423.42 L84.61 422.24 L84.61 429.13 M92.99 423.22 L92.48 422.44 L91.12 422.20 L89.76 422.44 L89.11 423.22 L89.11 424.25 L89.73 425.08 L92.17 426.14 L92.99 427.08 L92.99 428.11 L92.31 429.02 L90.95 429.13 L89.59 428.94 L88.91 428.11 M74.95 457.57 L78.48 457.57 L76.44 460.29 L77.46 460.29 L78.35 460.92 L78.76 462.26 L78.48 463.60 L77.46 464.47 L76.17 464.47 L75.15 464.07 L74.74 463.28 M82.01 458.95 L82.35 458.01 L83.17 457.57 L84.53 457.57 L85.35 458.16 L85.65 459.34 L85.35 460.53 L81.81 464.47 L85.89 464.47 M92.99 458.56 L92.48 457.77 L91.12 457.53 L89.76 457.77 L89.11 458.56 L89.11 459.58 L89.73 460.41 L92.17 461.47 L92.99 462.42 L92.99 463.44 L92.31 464.35 L90.95 464.47 L89.59 464.27 L88.91 463.44 M74.95 492.91 L78.48 492.91 L76.44 495.62 L77.46 495.62 L78.35 496.25 L78.76 497.59 L78.48 498.93 L77.46 499.80 L76.17 499.80 L75.15 499.41 L74.74 498.62 M82.05 492.91 L85.58 492.91 L83.54 495.62 L84.56 495.62 L85.45 496.25 L85.86 497.59 L85.58 498.93 L84.56 499.80 L83.27 499.80 L82.25 499.41 L81.84 498.62 M92.99 493.89 L92.48 493.10 L91.12 492.87 L89.76 493.10 L89.11 493.89 L89.11 494.91 L89.73 495.74 L92.17 496.81 L92.99 497.75 L92.99 498.78 L92.31 499.68 L90.95 499.80 L89.59 499.60 L88.91 498.78 M74.95 528.24 L78.48 528.24 L76.44 530.96 L77.46 530.96 L78.35 531.59 L78.76 532.93 L78.48 534.27 L77.46 535.13 L76.17 535.13 L75.15 534.74 L74.74 533.95 M84.80 535.13 L84.80 528.24 L81.88 532.93 L85.82 532.93 M92.99 529.22 L92.48 528.44 L91.12 528.20 L89.76 528.44 L89.11 529.22 L89.11 530.25 L89.73 531.08 L92.17 532.14 L92.99 533.08 L92.99 534.11 L92.31 535.02 L90.95 535.13 L89.59 534.94 L88.91 534.11 M74.95 563.57 L78.48 563.57 L76.44 566.29 L77.46 566.29 L78.35 566.92 L78.76 568.26 L78.48 569.60 L77.46 570.47 L76.17 570.47 L75.15 570.07 L74.74 569.28 M85.52 563.57 L82.52 563.57 L82.18 566.61 L83.17 566.13 L84.36 566.13 L85.35 566.68 L85.72 568.26 L85.38 569.68 L84.36 570.47 L83.17 570.47 L82.12 569.99 M92.99 564.56 L92.48 563.77 L91.12 563.53 L89.76 563.77 L89.11 564.56 L89.11 565.58 L89.73 566.41 L92.17 567.47 L92.99 568.42 L92.99 569.44 L92.31 570.35 L90.95 570.47 L89.59 570.27 L88.91 569.44 M74.95 598.90 L78.48 598.90 L76.44 601.62 L77.46 601.62 L78.35 602.25 L78.76 603.59 L78.48 604.93 L77.46 605.80 L76.17 605.80 L75.15 605.41 L74.74 604.62 M85.48 599.50 L84.80 598.90 L83.78 598.90 L82.76 599.50 L82.18 601.07 L82.08 603.44 L82.39 605.01 L83.27 605.80 L84.33 605.80 L85.28 605.01 L85.62 603.59 L85.28 602.25 L84.33 601.62 L83.27 601.62 L82.42 602.25 L82.08 603.44 M92.99 599.89 L92.48 599.10 L91.12 598.87 L89.76 599.10 L89.11 599.89 L89.11 600.91 L89.73 601.74 L92.17 602.81 L92.99 603.75 L92.99 604.78 L92.31 605.68 L90.95 605.80 L89.59 605.60 L88.91 604.78 M74.95 634.24 L78.48 634.24 L76.44 636.96 L77.46 636.96 L78.35 637.59 L78.76 638.93 L78.48 640.27 L77.46 641.13 L76.17 641.13 L75.15 640.74 L74.74 639.95 M81.98 634.24 L85.72 634.24 L83.20 641.13 M92.99 635.22 L92.48 634.44 L91.12 634.20 L89.76 634.44 L89.11 635.22 L89.11 636.25 L89.73 637.08 L92.17 638.14 L92.99 639.08 L92.99 640.11 L92.31 641.02 L90.95 641.13 L89.59 640.94 L88.91 640.11 M74.95 669.57 L78.48 669.57 L76.44 672.29 L77.46 672.29 L78.35 672.92 L78.76 674.26 L78.48 675.60 L77.46 676.47 L76.17 676.47 L75.15 676.07 L74.74 675.28 M85.38 671.23 L85.31 671.74 L85.09 672.20 L84.75 672.57 L84.32 672.80 L83.85 672.88 L83.38 672.80 L82.95 672.57 L82.61 672.20 L82.39 671.74 L82.32 671.23 L82.39 670.72 L82.61 670.25 L82.95 669.89 L83.38 669.65 L83.85 669.57 L84.32 669.65 L84.75 669.89 L85.09 670.25 L85.31 670.72 L85.38 671.23 M85.72 674.65 L85.63 675.21 L85.36 675.72 L84.95 676.12 L84.43 676.38 L83.85 676.47 L83.27 676.38 L82.75 676.12 L82.34 675.72 L82.07 675.21 L81.98 674.65 L82.07 674.09 L82.34 673.59 L82.75 673.19 L83.27 672.93 L83.85 672.84 L84.43 672.93 L84.95 673.19 L85.36 673.59 L85.63 674.09 L85.72 674.65 M92.99 670.56 L92.48 669.77 L91.12 669.53 L89.76 669.77 L89.11 670.56 L89.11 671.58 L89.73 672.41 L92.17 673.47 L92.99 674.42 L92.99 675.44 L92.31 676.35 L90.95 676.47 L89.59 676.27 L88.91 675.44 M74.95 704.90 L78.48 704.90 L76.44 707.62 L77.46 707.62 L78.35 708.25 L78.76 709.59 L78.48 710.93 L77.46 711.80 L76.17 711.80 L75.15 711.41 L74.74 710.62 M85.62 707.27 L85.28 708.49 L84.33 709.08 L83.31 709.08 L82.42 708.49 L82.08 707.15 L82.42 705.65 L83.31 704.90 L84.39 704.90 L85.28 705.65 L85.62 707.27 L85.62 709.44 L85.28 711.01 L84.33 711.80 L83.31 711.80 L82.49 711.25 M92.99 705.89 L92.48 705.10 L91.12 704.87 L89.76 705.10 L89.11 705.89 L89.11 706.91 L89.73 707.74 L92.17 708.81 L92.99 709.75 L92.99 710.78 L92.31 711.68 L90.95 711.80 L89.59 711.60 L88.91 710.78" stroke="#000" stroke-width="1.9" fill="none" stroke-linecap="square" stroke-linejoin="miter" shape-rendering="crispEdges"/>
<path d="M120.06 715.83 L121.25 714.50 L121.25 722.30 M124.93 714.50 L128.68 714.50 L126.52 717.57 L127.60 717.57 L128.53 718.29 L128.96 719.80 L128.68 721.32 L127.60 722.30 L126.23 722.30 L125.15 721.85 L124.72 720.96 M134.97 715.16 L134.25 714.50 L133.17 714.50 L132.09 715.16 L131.48 716.95 L131.37 719.62 L131.69 721.41 L132.63 722.30 L133.74 722.30 L134.75 721.41 L135.11 719.80 L134.75 718.29 L133.74 717.57 L132.63 717.57 L131.73 718.29 L131.37 719.62 M141.62 714.50 L137.66 714.50 L137.66 722.30 L141.62 722.30 M137.66 718.29 L140.18 718.29 M178.94 715.83 L180.13 714.50 L180.13 722.30 M183.81 714.50 L187.56 714.50 L185.40 717.57 L186.48 717.57 L187.41 718.29 L187.84 719.80 L187.56 721.32 L186.48 722.30 L185.11 722.30 L184.03 721.85 L183.60 720.96 M193.74 716.37 L193.66 716.95 L193.43 717.47 L193.07 717.88 L192.62 718.15 L192.12 718.24 L191.62 718.15 L191.17 717.88 L190.81 717.47 L190.58 716.95 L190.50 716.37 L190.58 715.79 L190.81 715.27 L191.17 714.85 L191.62 714.59 L192.12 714.50 L192.62 714.59 L193.07 714.85 L193.43 715.27 L193.66 715.79 L193.74 716.37 M194.10 720.25 L194.00 720.88 L193.72 721.45 L193.28 721.91 L192.73 722.20 L192.12 722.30 L191.51 722.20 L190.96 721.91 L190.52 721.45 L190.24 720.88 L190.14 720.25 L190.24 719.61 L190.52 719.04 L190.96 718.59 L191.51 718.30 L192.12 718.20 L192.73 718.30 L193.28 718.59 L193.72 719.04 L194.00 719.61 L194.10 720.25 M200.50 714.50 L196.54 714.50 L196.54 722.30 L200.50 722.30 M196.54 718.29 L199.06 718.29 M237.82 715.83 L239.01 714.50 L239.01 722.30 M245.61 722.30 L245.61 714.50 L242.51 719.80 L246.69 719.80 M252.87 718.40 L252.81 719.41 L252.62 720.35 L252.32 721.16 L251.94 721.78 L251.48 722.17 L251.00 722.30 L250.52 722.17 L250.06 721.78 L249.68 721.16 L249.38 720.35 L249.19 719.41 L249.13 718.40 L249.19 717.39 L249.38 716.45 L249.68 715.64 L250.06 715.02 L250.52 714.63 L251.00 714.50 L251.48 714.63 L251.94 715.02 L252.32 715.64 L252.62 716.45 L252.81 717.39 L252.87 718.40 M259.38 714.50 L255.42 714.50 L255.42 722.30 L259.38 722.30 M255.42 718.29 L257.94 718.29 M296.70 715.83 L297.89 714.50 L297.89 722.30 M304.49 722.30 L304.49 714.50 L301.39 719.80 L305.57 719.80 M307.94 716.06 L308.30 714.99 L309.16 714.50 L310.60 714.50 L311.46 715.16 L311.79 716.50 L311.46 717.84 L307.72 722.30 L312.04 722.30 M318.26 714.50 L314.30 714.50 L314.30 722.30 L318.26 722.30 M314.30 718.29 L316.82 718.29 M355.58 715.83 L356.77 714.50 L356.77 722.30 M363.37 722.30 L363.37 714.50 L360.27 719.80 L364.45 719.80 M369.77 722.30 L369.77 714.50 L366.67 719.80 L370.85 719.80 M377.14 714.50 L373.18 714.50 L373.18 722.30 L377.14 722.30 M373.18 718.29 L375.70 718.29 M414.46 715.83 L415.65 714.50 L415.65 722.30 M422.25 722.30 L422.25 714.50 L419.15 719.80 L423.33 719.80 M429.37 715.16 L428.65 714.50 L427.57 714.50 L426.49 715.16 L425.88 716.95 L425.77 719.62 L426.09 721.41 L427.03 722.30 L428.14 722.30 L429.15 721.41 L429.51 719.80 L429.15 718.29 L428.14 717.57 L427.03 717.57 L426.13 718.29 L425.77 719.62 M436.02 714.50 L432.06 714.50 L432.06 722.30 L436.02 722.30 M432.06 718.29 L434.58 718.29 M473.34 715.83 L474.53 714.50 L474.53 722.30 M481.13 722.30 L481.13 714.50 L478.03 719.80 L482.21 719.80 M488.14 716.37 L488.06 716.95 L487.83 717.47 L487.47 717.88 L487.02 718.15 L486.52 718.24 L486.02 718.15 L485.57 717.88 L485.21 717.47 L484.98 716.95 L484.90 716.37 L484.98 715.79 L485.21 715.27 L485.57 714.85 L486.02 714.59 L486.52 714.50 L487.02 714.59 L487.47 714.85 L487.83 715.27 L488.06 715.79 L488.14 716.37 M488.50 720.25 L488.40 720.88 L488.12 721.45 L487.68 721.91 L487.13 722.20 L486.52 722.30 L485.91 722.20 L485.36 721.91 L484.92 721.45 L484.64 720.88 L484.54 720.25 L484.64 719.61 L484.92 719.04 L485.36 718.59 L485.91 718.30 L486.52 718.20 L487.13 718.30 L487.68 718.59 L488.12 719.04 L488.40 719.61 L488.50 720.25 M494.90 714.50 L490.94 714.50 L490.94 722.30 L494.90 722.30 M490.94 718.29 L493.46 718.29 M532.22 715.83 L533.41 714.50 L533.41 722.30 M540.76 714.50 L537.60 714.50 L537.24 717.93 L538.28 717.39 L539.54 717.39 L540.58 718.02 L540.98 719.80 L540.62 721.41 L539.54 722.30 L538.28 722.30 L537.16 721.76 M547.27 718.40 L547.21 719.41 L547.02 720.35 L546.72 721.16 L546.34 721.78 L545.88 722.17 L545.40 722.30 L544.92 722.17 L544.46 721.78 L544.08 721.16 L543.78 720.35 L543.59 719.41 L543.53 718.40 L543.59 717.39 L543.78 716.45 L544.08 715.64 L544.46 715.02 L544.92 714.63 L545.40 714.50 L545.88 714.63 L546.34 715.02 L546.72 715.64 L547.02 716.45 L547.21 717.39 L547.27 718.40 M553.78 714.50 L549.82 714.50 L549.82 722.30 L553.78 722.30 M549.82 718.29 L552.34 718.29 M591.10 715.83 L592.29 714.50 L592.29 722.30 M599.64 714.50 L596.48 714.50 L596.12 717.93 L597.16 717.39 L598.42 717.39 L599.46 718.02 L599.86 719.80 L599.50 721.41 L598.42 722.30 L597.16 722.30 L596.04 721.76 M602.34 716.06 L602.70 714.99 L603.56 714.50 L605.00 714.50 L605.86 715.16 L606.19 716.50 L605.86 717.84 L602.12 722.30 L606.44 722.30 M612.66 714.50 L608.70 714.50 L608.70 722.30 L612.66 722.30 M608.70 718.29 L611.22 718.29 M649.98 715.83 L651.17 714.50 L651.17 722.30 M658.52 714.50 L655.36 714.50 L655.00 717.93 L656.04 717.39 L657.30 717.39 L658.34 718.02 L658.74 719.80 L658.38 721.41 L657.30 722.30 L656.04 722.30 L654.92 721.76 M664.17 722.30 L664.17 714.50 L661.07 719.80 L665.25 719.80 M671.54 714.50 L667.58 714.50 L667.58 722.30 L671.54 722.30 M667.58 718.29 L670.10 718.29 M708.86 715.83 L710.05 714.50 L710.05 722.30 M717.40 714.50 L714.24 714.50 L713.88 717.93 L714.92 717.39 L716.18 717.39 L717.22 718.02 L717.62 719.80 L717.26 721.41 L716.18 722.30 L714.92 722.30 L713.80 721.76 M723.77 715.16 L723.05 714.50 L721.97 714.50 L720.89 715.16 L720.28 716.95 L720.17 719.62 L720.49 721.41 L721.43 722.30 L722.54 722.30 L723.55 721.41 L723.91 719.80 L723.55 718.29 L722.54 717.57 L721.43 717.57 L720.53 718.29 L720.17 719.62 M730.42 714.50 L726.46 714.50 L726.46 722.30 L730.42 722.30 M726.46 718.29 L728.98 718.29 M767.74 715.83 L768.93 714.50 L768.93 722.30 M776.28 714.50 L773.12 714.50 L772.76 717.93 L773.80 717.39 L775.06 717.39 L776.10 718.02 L776.50 719.80 L776.14 721.41 L775.06 722.30 L773.80 722.30 L772.68 721.76 M782.54 716.37 L782.46 716.95 L782.23 717.47 L781.87 717.88 L781.42 718.15 L780.92 718.24 L780.42 718.15 L779.97 717.88 L779.61 717.47 L779.38 716.95 L779.30 716.37 L779.38 715.79 L779.61 715.27 L779.97 714.85 L780.42 714.59 L780.92 714.50 L781.42 714.59 L781.87 714.85 L782.23 715.27 L782.46 715.79 L782.54 716.37 M782.90 720.25 L782.80 720.88 L782.52 721.45 L782.08 721.91 L781.53 722.20 L780.92 722.30 L780.31 722.20 L779.76 721.91 L779.32 721.45 L779.04 720.88 L778.94 720.25 L779.04 719.61 L779.32 719.04 L779.76 718.59 L780.31 718.30 L780.92 718.20 L781.53 718.30 L782.08 718.59 L782.52 719.04 L782.80 719.61 L782.90 720.25 M789.30 714.50 L785.34 714.50 L785.34 722.30 L789.30 722.30 M785.34 718.29 L787.86 718.29 M826.62 715.83 L827.81 714.50 L827.81 722.30 M835.13 715.16 L834.41 714.50 L833.33 714.50 L832.25 715.16 L831.64 716.95 L831.53 719.62 L831.85 721.41 L832.79 722.30 L833.90 722.30 L834.91 721.41 L835.27 719.80 L834.91 718.29 L833.90 717.57 L832.79 717.57 L831.89 718.29 L831.53 719.62 M841.67 718.40 L841.61 719.41 L841.42 720.35 L841.12 721.16 L840.74 721.78 L840.28 722.17 L839.80 722.30 L839.32 722.17 L838.86 721.78 L838.48 721.16 L838.18 720.35 L837.99 719.41 L837.93 718.40 L837.99 717.39 L838.18 716.45 L838.48 715.64 L838.86 715.02 L839.32 714.63 L839.80 714.50 L840.28 714.63 L840.74 715.02 L841.12 715.64 L841.42 716.45 L841.61 717.39 L841.67 718.40 M848.18 714.50 L844.22 714.50 L844.22 722.30 L848.18 722.30 M844.22 718.29 L846.74 718.29" stroke="#000" stroke-width="1.5" fill="none" stroke-linecap="square" shape-rendering="crispEdges"/>
<g shape-rendering="crispEdges"><rect x="135.30" y="729.5" width="60.82" height="15.0" fill="#0050ff"/><rect x="195.82" y="729.5" width="60.82" height="15.0" fill="#007dff"/><rect x="256.34" y="729.5" width="60.82" height="15.0" fill="#28a5ff"/><rect x="316.85" y="729.5" width="60.82" height="15.0" fill="#82d2ff"/><rect x="377.37" y="729.5" width="60.82" height="15.0" fill="#aaffff"/><rect x="437.89" y="729.5" width="60.82" height="15.0" fill="#ffffff"/><rect x="498.41" y="729.5" width="60.82" height="15.0" fill="#fffa82"/><rect x="558.93" y="729.5" width="60.82" height="15.0" fill="#ffa500"/><rect x="619.45" y="729.5" width="60.82" height="15.0" fill="#ff2d00"/><rect x="679.96" y="729.5" width="60.82" height="15.0" fill="#d70000"/><rect x="740.48" y="729.5" width="60.82" height="15.0" fill="#a50000"/></g>
<rect x="135.3" y="729.5" width="665.7" height="15.0" fill="none" stroke="#000" stroke-width="1.5"/>
<path d="M189.45 750.92 L189.88 749.55 L190.91 748.92 L192.63 748.92 L193.66 749.78 L194.05 751.49 L193.66 753.20 L189.19 758.90 L194.35 758.90 M202.10 753.91 L202.03 755.20 L201.80 756.41 L201.45 757.44 L200.99 758.23 L200.45 758.73 L199.87 758.90 L199.29 758.73 L198.75 758.23 L198.29 757.44 L197.93 756.41 L197.71 755.20 L197.63 753.91 L197.71 752.62 L197.93 751.42 L198.29 750.39 L198.75 749.59 L199.29 749.09 L199.87 748.92 L200.45 749.09 L200.99 749.59 L201.45 750.39 L201.80 751.42 L202.03 752.62 L202.10 753.91 M249.96 750.92 L250.39 749.55 L251.43 748.92 L253.15 748.92 L254.18 749.78 L254.57 751.49 L254.18 753.20 L249.71 758.90 L254.87 758.90 M262.49 748.92 L258.71 748.92 L258.28 753.31 L259.53 752.63 L261.03 752.63 L262.28 753.43 L262.75 755.71 L262.32 757.76 L261.03 758.90 L259.53 758.90 L258.19 758.22 M310.53 748.92 L315.00 748.92 L312.42 752.86 L313.71 752.86 L314.83 753.77 L315.34 755.71 L315.00 757.65 L313.71 758.90 L312.07 758.90 L310.78 758.33 L310.27 757.19 M323.14 753.91 L323.06 755.20 L322.84 756.41 L322.49 757.44 L322.02 758.23 L321.48 758.73 L320.90 758.90 L320.33 758.73 L319.79 758.23 L319.32 757.44 L318.97 756.41 L318.74 755.20 L318.67 753.91 L318.74 752.62 L318.97 751.42 L319.32 750.39 L319.79 749.59 L320.33 749.09 L320.90 748.92 L321.48 749.09 L322.02 749.59 L322.49 750.39 L322.84 751.42 L323.06 752.62 L323.14 753.91 M371.04 748.92 L375.52 748.92 L372.94 752.86 L374.23 752.86 L375.34 753.77 L375.86 755.71 L375.52 757.65 L374.23 758.90 L372.59 758.90 L371.30 758.33 L370.79 757.19 M383.53 748.92 L379.75 748.92 L379.32 753.31 L380.56 752.63 L382.07 752.63 L383.31 753.43 L383.79 755.71 L383.36 757.76 L382.07 758.90 L380.56 758.90 L379.23 758.22 M435.04 758.90 L435.04 748.92 L431.35 755.71 L436.33 755.71 M444.18 753.91 L444.10 755.20 L443.88 756.41 L443.52 757.44 L443.06 758.23 L442.52 758.73 L441.94 758.90 L441.36 758.73 L440.82 758.23 L440.36 757.44 L440.00 756.41 L439.78 755.20 L439.70 753.91 L439.78 752.62 L440.00 751.42 L440.36 750.39 L440.82 749.59 L441.36 749.09 L441.94 748.92 L442.52 749.09 L443.06 749.59 L443.52 750.39 L443.88 751.42 L444.10 752.62 L444.18 753.91 M495.56 758.90 L495.56 748.92 L491.87 755.71 L496.85 755.71 M504.57 748.92 L500.78 748.92 L500.35 753.31 L501.60 752.63 L503.10 752.63 L504.35 753.43 L504.82 755.71 L504.39 757.76 L503.10 758.90 L501.60 758.90 L500.27 758.22 M556.98 748.92 L553.20 748.92 L552.77 753.31 L554.02 752.63 L555.52 752.63 L556.77 753.43 L557.24 755.71 L556.81 757.76 L555.52 758.90 L554.02 758.90 L552.68 758.22 M565.21 753.91 L565.14 755.20 L564.91 756.41 L564.56 757.44 L564.10 758.23 L563.56 758.73 L562.98 758.90 L562.40 758.73 L561.86 758.23 L561.40 757.44 L561.04 756.41 L560.82 755.20 L560.74 753.91 L560.82 752.62 L561.04 751.42 L561.40 750.39 L561.86 749.59 L562.40 749.09 L562.98 748.92 L563.56 749.09 L564.10 749.59 L564.56 750.39 L564.91 751.42 L565.14 752.62 L565.21 753.91 M617.50 748.92 L613.72 748.92 L613.29 753.31 L614.54 752.63 L616.04 752.63 L617.29 753.43 L617.76 755.71 L617.33 757.76 L616.04 758.90 L614.54 758.90 L613.20 758.22 M625.60 748.92 L621.82 748.92 L621.39 753.31 L622.64 752.63 L624.14 752.63 L625.39 753.43 L625.86 755.71 L625.43 757.76 L624.14 758.90 L622.64 758.90 L621.30 758.22 M677.98 749.78 L677.12 748.92 L675.83 748.92 L674.54 749.78 L673.81 752.06 L673.68 755.48 L674.06 757.76 L675.18 758.90 L676.52 758.90 L677.72 757.76 L678.15 755.71 L677.72 753.77 L676.52 752.86 L675.18 752.86 L674.11 753.77 L673.68 755.48 M686.25 753.91 L686.17 755.20 L685.95 756.41 L685.59 757.44 L685.13 758.23 L684.59 758.73 L684.01 758.90 L683.43 758.73 L682.90 758.23 L682.43 757.44 L682.08 756.41 L681.85 755.20 L681.78 753.91 L681.85 752.62 L682.08 751.42 L682.43 750.39 L682.90 749.59 L683.43 749.09 L684.01 748.92 L684.59 749.09 L685.13 749.59 L685.59 750.39 L685.95 751.42 L686.17 752.62 L686.25 753.91 M738.50 749.78 L737.64 748.92 L736.35 748.92 L735.06 749.78 L734.32 752.06 L734.20 755.48 L734.58 757.76 L735.70 758.90 L737.03 758.90 L738.24 757.76 L738.67 755.71 L738.24 753.77 L737.03 752.86 L735.70 752.86 L734.63 753.77 L734.20 755.48 M746.64 748.92 L742.85 748.92 L742.42 753.31 L743.67 752.63 L745.18 752.63 L746.42 753.43 L746.90 755.71 L746.47 757.76 L745.18 758.90 L743.67 758.90 L742.34 758.22" stroke="#000" stroke-width="1.9" fill="none" stroke-linecap="square" shape-rendering="crispEdges"/>
<path d="M195.90 152.20 L195.90 164.40 M195.90 146.60 L195.90 148.10 M210.70 154.10 L209.30 152.60 L206.20 152.20 L203.10 152.70 L201.90 154.60 L202.70 156.80 L206.20 158.10 L209.70 159.40 L210.70 161.60 L209.50 163.90 L206.20 164.40 L203.00 163.90 L201.70 162.40 M224.40 158.30 L224.17 160.19 L223.52 161.89 L222.50 163.24 L221.22 164.10 L219.80 164.40 L218.38 164.10 L217.10 163.24 L216.08 161.89 L215.43 160.19 L215.20 158.30 L215.43 156.41 L216.08 154.71 L217.10 153.36 L218.38 152.50 L219.80 152.20 L221.22 152.50 L222.50 153.36 L223.52 154.71 L224.17 156.41 L224.40 158.30 M230.20 146.30 L230.20 161.80 L231.00 163.80 L232.60 164.40 L233.80 164.40 M227.60 152.20 L233.80 152.20 M248.00 154.80 L246.60 152.70 L243.40 152.20 L240.00 153.40 L238.40 158.30 L239.80 163.20 L243.00 164.40 L246.40 163.60 L248.00 161.40 M248.00 152.20 L248.00 164.40 M261.80 154.40 L260.40 152.70 L257.20 152.20 L253.80 153.40 L252.20 158.30 L253.60 163.20 L256.80 164.40 L260.20 163.90 L261.80 162.20 M266.80 146.30 L266.80 164.40 M266.80 155.80 L268.30 153.20 L271.20 152.20 L274.60 152.80 L276.10 155.40 L276.10 164.40 M290.20 154.10 L288.80 152.60 L285.70 152.20 L282.60 152.70 L281.40 154.60 L282.20 156.80 L285.70 158.10 L289.20 159.40 L290.20 161.60 L289.00 163.90 L285.70 164.40 L282.50 163.90 L281.20 162.40 M312.60 143.60 L309.40 148.90 L307.50 154.90 L307.50 160.90 L309.40 166.90 L312.60 170.40 M317.60 146.30 L317.60 164.40 M326.20 152.20 L317.60 159.80 M320.80 157.00 L326.60 164.40 M330.80 152.20 L330.80 164.40 M330.80 155.80 L332.30 153.20 L335.20 152.20 L338.60 152.80 L340.10 155.40 L340.10 164.40 M354.40 158.30 L354.17 160.19 L353.52 161.89 L352.50 163.24 L351.22 164.10 L349.80 164.40 L348.38 164.10 L347.10 163.24 L346.08 161.89 L345.43 160.19 L345.20 158.30 L345.43 156.41 L346.08 154.71 L347.10 153.36 L348.38 152.50 L349.80 152.20 L351.22 152.50 L352.50 153.36 L353.52 154.71 L354.17 156.41 L354.40 158.30 M360.40 146.30 L360.40 161.80 L361.20 163.80 L362.80 164.40 L364.00 164.40 M357.80 152.20 L364.00 152.20 M367.60 143.60 L370.80 148.90 L372.70 154.90 L372.70 160.90 L370.80 166.90 L367.60 170.40 M393.20 146.90 L403.60 146.90 L397.60 153.80 L400.60 153.80 L403.20 155.40 L404.40 158.80 L403.60 162.20 L400.60 164.40 L396.80 164.40 L393.80 163.40 L392.60 161.40 M417.80 155.65 L417.62 157.91 L417.10 160.03 L416.28 161.84 L415.20 163.23 L413.95 164.10 L412.60 164.40 L411.25 164.10 L410.00 163.23 L408.92 161.84 L408.10 160.03 L407.58 157.91 L407.40 155.65 L407.58 153.39 L408.10 151.28 L408.92 149.46 L410.00 148.07 L411.25 147.20 L412.60 146.90 L413.95 147.20 L415.20 148.07 L416.28 149.46 L417.10 151.28 L417.62 153.39 L417.80 155.65 M432.80 155.65 L432.62 157.91 L432.10 160.03 L431.28 161.84 L430.20 163.23 L428.95 164.10 L427.60 164.40 L426.25 164.10 L425.00 163.23 L423.92 161.84 L423.10 160.03 L422.58 157.91 L422.40 155.65 L422.58 153.39 L423.10 151.28 L423.92 149.46 L425.00 148.07 L426.25 147.20 L427.60 146.90 L428.95 147.20 L430.20 148.07 L431.28 149.46 L432.10 151.28 L432.62 153.39 L432.80 155.65 M453.20 152.20 L453.20 164.40 M453.20 155.80 L454.60 153.20 L457.10 152.20 L459.80 152.80 L461.20 155.40 L461.20 164.40 M461.20 155.40 L462.60 152.80 L465.20 152.20 L467.80 152.80 L469.20 155.40 L469.20 164.40 M474.20 146.30 L474.20 164.40 M474.20 154.80 L475.60 152.70 L478.80 152.20 L482.20 153.40 L483.80 158.30 L482.40 163.20 L479.20 164.40 L475.80 163.60 L474.20 161.40 M513.80 149.40 L512.30 147.40 L508.30 146.80 L504.30 147.40 L502.40 149.40 L502.40 152.00 L504.20 154.10 L511.40 156.80 L513.80 159.20 L513.80 161.80 L511.80 164.10 L507.80 164.40 L503.80 163.90 L501.80 161.80 M519.80 152.20 L519.80 161.20 L521.30 163.80 L524.40 164.40 L527.60 163.40 L529.10 160.80 M529.10 152.20 L529.10 164.40 M533.00 152.20 L533.00 164.40 M533.00 155.80 L534.50 153.20 L537.40 152.20 L540.80 152.80 L542.30 155.40 L542.30 164.40 M570.00 155.65 L569.82 157.91 L569.30 160.03 L568.48 161.84 L567.40 163.23 L566.15 164.10 L564.80 164.40 L563.45 164.10 L562.20 163.23 L561.12 161.84 L560.30 160.03 L559.78 157.91 L559.60 155.65 L559.78 153.39 L560.30 151.28 L561.12 149.46 L562.20 148.07 L563.45 147.20 L564.80 146.90 L566.15 147.20 L567.40 148.07 L568.48 149.46 L569.30 151.28 L569.82 153.39 L570.00 155.65 M585.60 148.40 L583.60 146.90 L580.60 146.90 L577.60 148.40 L575.90 152.40 L575.60 158.40 L576.50 162.40 L579.10 164.40 L582.20 164.40 L585.00 162.40 L586.00 158.80 L585.00 155.40 L582.20 153.80 L579.10 153.80 L576.60 155.40 L575.60 158.40 M590.60 146.90 L601.00 146.90 L590.00 164.40 L601.40 164.40 M619.80 150.40 L620.80 148.00 L623.20 146.90 L627.20 146.90 L629.60 148.40 L630.50 151.40 L629.60 154.40 L619.20 164.40 L631.20 164.40 M644.00 146.90 L635.20 146.90 L634.20 154.60 L637.10 153.40 L640.60 153.40 L643.50 154.80 L644.60 158.80 L643.60 162.40 L640.60 164.40 L637.10 164.40 L634.00 163.20 M652.40 152.20 L652.40 168.20 L651.60 169.80 L649.40 170.30 L647.80 170.00 M652.40 146.60 L652.40 148.10 M666.60 154.80 L665.20 152.70 L662.00 152.20 L658.60 153.40 L657.00 158.30 L658.40 163.20 L661.60 164.40 L665.00 163.60 L666.60 161.40 M666.60 152.20 L666.60 164.40 M672.60 152.20 L672.60 164.40 M672.60 155.80 L674.10 153.20 L677.00 152.20 L680.40 152.80 L681.90 155.40 L681.90 164.40 M687.00 150.40 L688.00 148.00 L690.40 146.90 L694.40 146.90 L696.80 148.40 L697.70 151.40 L696.80 154.40 L686.40 164.40 L698.40 164.40 M713.00 155.65 L712.82 157.91 L712.30 160.03 L711.48 161.84 L710.40 163.23 L709.15 164.10 L707.80 164.40 L706.45 164.10 L705.20 163.23 L704.12 161.84 L703.30 160.03 L702.78 157.91 L702.60 155.65 L702.78 153.39 L703.30 151.28 L704.12 149.46 L705.20 148.07 L706.45 147.20 L707.80 146.90 L709.15 147.20 L710.40 148.07 L711.48 149.46 L712.30 151.28 L712.82 153.39 L713.00 155.65 M728.00 155.65 L727.82 157.91 L727.30 160.03 L726.48 161.84 L725.40 163.23 L724.15 164.10 L722.80 164.40 L721.45 164.10 L720.20 163.23 L719.12 161.84 L718.30 160.03 L717.78 157.91 L717.60 155.65 L717.78 153.39 L718.30 151.28 L719.12 149.46 L720.20 148.07 L721.45 147.20 L722.80 146.90 L724.15 147.20 L725.40 148.07 L726.48 149.46 L727.30 151.28 L727.82 153.39 L728.00 155.65 M739.80 164.40 L739.80 146.90 L731.20 158.80 L742.80 158.80" stroke="#000" stroke-width="2" fill="none" stroke-linecap="round" stroke-linejoin="round" shape-rendering="crispEdges"/></svg>
</body></html>
